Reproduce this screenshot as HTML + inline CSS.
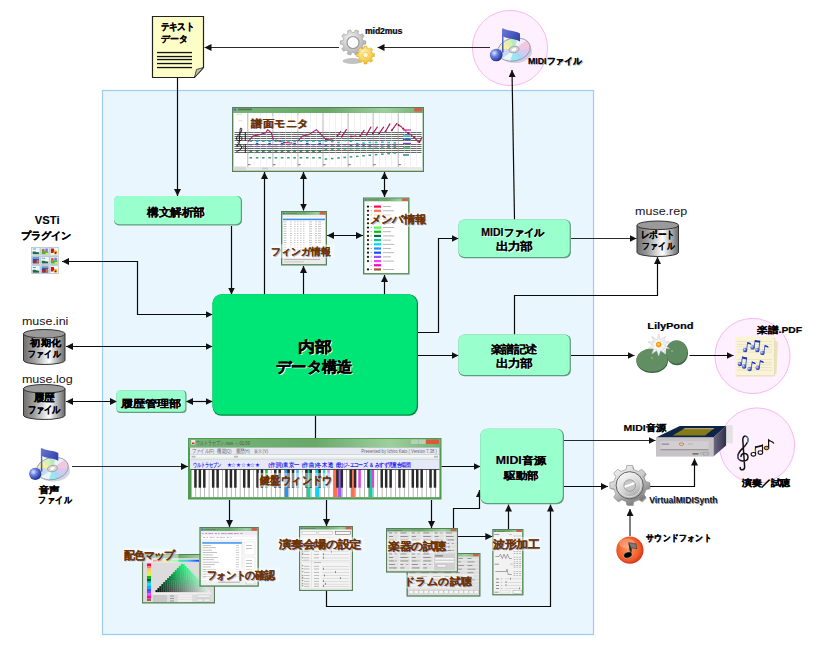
<!DOCTYPE html>
<html><head><meta charset="utf-8"><style>
html,body{margin:0;padding:0;background:#fff}
body{width:816px;height:648px;overflow:hidden;position:relative;font-family:"Liberation Sans",sans-serif}
svg{position:absolute;left:0;top:0;font-family:"Liberation Sans",sans-serif}
</style></head><body>
<svg width="816" height="648" viewBox="0 0 816 648">
<defs>
<marker id="ah" viewBox="0 0 10 10" refX="10" refY="5" markerWidth="7" markerHeight="7" markerUnits="userSpaceOnUse" orient="auto"><path d="M0,0 L10,5 L0,10 z" fill="#111"/></marker>
<marker id="ahs" viewBox="0 0 10 10" refX="0" refY="5" markerWidth="7" markerHeight="7" markerUnits="userSpaceOnUse" orient="auto"><path d="M10,0 L0,5 L10,10 z" fill="#111"/></marker>
<linearGradient id="tbar" x1="0" y1="0" x2="1" y2="0"><stop offset="0" stop-color="#78b478"/><stop offset="0.5" stop-color="#6aa86a"/><stop offset="0.8" stop-color="#9fcf9f"/><stop offset="1" stop-color="#74ae74"/></linearGradient>
<linearGradient id="cylg" x1="0" y1="0" x2="1" y2="0"><stop offset="0" stop-color="#6e6e6e"/><stop offset="0.25" stop-color="#9c9c9c"/><stop offset="0.62" stop-color="#ffffff"/><stop offset="1" stop-color="#6a6a6a"/></linearGradient>
<linearGradient id="cdg" x1="0" y1="0" x2="1" y2="1"><stop offset="0" stop-color="#f2f08a"/><stop offset="0.3" stop-color="#c8e6c0"/><stop offset="0.5" stop-color="#e8e8f8"/><stop offset="0.7" stop-color="#b8c8f0"/><stop offset="1" stop-color="#a0e0f0"/></linearGradient>
<linearGradient id="noteg" x1="0" y1="0" x2="1" y2="1"><stop offset="0" stop-color="#6a7ad8"/><stop offset="1" stop-color="#1a2a9a"/></linearGradient>
<radialGradient id="ballg" cx="0.35" cy="0.35" r="0.7"><stop offset="0" stop-color="#e0e8ff"/><stop offset="0.4" stop-color="#6a80e0"/><stop offset="1" stop-color="#1a2a8a"/></radialGradient>
<radialGradient id="graygear" cx="0.4" cy="0.35" r="0.7"><stop offset="0" stop-color="#f4f4f4"/><stop offset="1" stop-color="#a8a8a8"/></radialGradient>
<radialGradient id="yelgear" cx="0.4" cy="0.35" r="0.7"><stop offset="0" stop-color="#fff6b0"/><stop offset="1" stop-color="#f0b820"/></radialGradient>
<radialGradient id="silvg" cx="0.5" cy="0.4" r="0.6"><stop offset="0" stop-color="#ffffff"/><stop offset="0.6" stop-color="#c8c8c8"/><stop offset="1" stop-color="#707070"/></radialGradient>
<radialGradient id="redg" cx="0.45" cy="0.45" r="0.6"><stop offset="0" stop-color="#ff9a60"/><stop offset="0.7" stop-color="#f05a28"/><stop offset="1" stop-color="#c82818"/></radialGradient>
<linearGradient id="padg" x1="0" y1="0" x2="0" y2="1"><stop offset="0" stop-color="#7a9a78"/><stop offset="1" stop-color="#4e6e4c"/></linearGradient>
</defs>

<rect x="102.5" y="90.5" width="491" height="544" fill="#eaf6fe" stroke="#9ccbf6" stroke-width="1.2"/>
<circle cx="510" cy="48" r="37.6" fill="#fff0ff" stroke="#f6b8f4" stroke-width="1"/>
<circle cx="752.5" cy="356" r="37.6" fill="#fff0ff" stroke="#f6b8f4" stroke-width="1"/>
<circle cx="757" cy="445.5" r="37.6" fill="#fff0ff" stroke="#f6b8f4" stroke-width="1"/>
<path d="M490,47.5 L377.5,47.5" fill="none" stroke="#2a2a2a" stroke-width="1.2" marker-end="url(#ah)"/>
<path d="M339,47.5 L204.5,47.5" fill="none" stroke="#2a2a2a" stroke-width="1.2" marker-end="url(#ah)"/>
<path d="M177.5,78 L177.5,196" fill="none" stroke="#0a0a0a" stroke-width="1.2" marker-end="url(#ah)"/>
<path d="M231.5,226 L231.5,294.5" fill="none" stroke="#0a0a0a" stroke-width="1.2" marker-end="url(#ah)"/>
<path d="M264.5,294.5 L264.5,172" fill="none" stroke="#0a0a0a" stroke-width="1.2" marker-end="url(#ah)"/>
<path d="M303.5,172 L303.5,210.5" fill="none" stroke="#0a0a0a" stroke-width="1.2" marker-end="url(#ah)" marker-start="url(#ahs)"/>
<path d="M384.5,172 L384.5,197" fill="none" stroke="#0a0a0a" stroke-width="1.2" marker-end="url(#ah)" marker-start="url(#ahs)"/>
<path d="M303.5,294.5 L303.5,266" fill="none" stroke="#0a0a0a" stroke-width="1.2" marker-end="url(#ah)"/>
<path d="M384.5,294.5 L384.5,275" fill="none" stroke="#0a0a0a" stroke-width="1.2" marker-end="url(#ah)"/>
<path d="M327,235.5 L363,235.5" fill="none" stroke="#0a0a0a" stroke-width="1.2" marker-end="url(#ah)" marker-start="url(#ahs)"/>
<path d="M418,332.5 L438.5,332.5 L438.5,238.5 L458.5,238.5" fill="none" stroke="#0a0a0a" stroke-width="1.2" marker-end="url(#ah)"/>
<path d="M514.5,219.5 L512,70" fill="none" stroke="#0a0a0a" stroke-width="1.2" marker-end="url(#ah)"/>
<path d="M571,238.5 L636.5,238.5" fill="none" stroke="#2a2a2a" stroke-width="1.2" marker-end="url(#ah)"/>
<path d="M418,355.5 L458.5,355.5" fill="none" stroke="#0a0a0a" stroke-width="1.2" marker-end="url(#ah)"/>
<path d="M514.5,334.5 L514.5,295.5 L657.5,295.5 L657.5,257" fill="none" stroke="#0a0a0a" stroke-width="1.2" marker-end="url(#ah)"/>
<path d="M571,355.5 L634.5,355.5" fill="none" stroke="#0a0a0a" stroke-width="1.2" marker-end="url(#ah)"/>
<path d="M689.5,355.5 L733.5,355.5" fill="none" stroke="#0a0a0a" stroke-width="1.2" marker-end="url(#ah)"/>
<path d="M62,261.5 L137.5,261.5 L137.5,314.5 L212.5,314.5" fill="none" stroke="#0a0a0a" stroke-width="1.2" marker-end="url(#ah)" marker-start="url(#ahs)"/>
<path d="M66,346.5 L212.5,346.5" fill="none" stroke="#0a0a0a" stroke-width="1.2" marker-end="url(#ah)" marker-start="url(#ahs)"/>
<path d="M66,401.5 L117,401.5" fill="none" stroke="#0a0a0a" stroke-width="1.2" marker-end="url(#ah)" marker-start="url(#ahs)"/>
<path d="M186,401.5 L212.5,401.5" fill="none" stroke="#0a0a0a" stroke-width="1.2" marker-end="url(#ah)" marker-start="url(#ahs)"/>
<path d="M315.5,416 L315.5,438" fill="none" stroke="#0a0a0a" stroke-width="1.2"/>
<path d="M72,466.5 L188,466.5" fill="none" stroke="#2a2a2a" stroke-width="1.2" marker-end="url(#ah)"/>
<path d="M441.5,466.5 L480.5,466.5" fill="none" stroke="#0a0a0a" stroke-width="1.2" marker-end="url(#ah)"/>
<path d="M229.5,500 L229.5,527" fill="none" stroke="#0a0a0a" stroke-width="1.2" marker-end="url(#ah)"/>
<path d="M326.5,500 L326.5,526" fill="none" stroke="#0a0a0a" stroke-width="1.2" marker-end="url(#ah)"/>
<path d="M431.5,500 L431.5,528" fill="none" stroke="#0a0a0a" stroke-width="1.2" marker-end="url(#ah)"/>
<path d="M453.5,528 L453.5,508.5 L479.5,508.5 L479.5,490" fill="none" stroke="#0a0a0a" stroke-width="1.2" marker-end="url(#ah)"/>
<path d="M458,536.5 L492.3,536.5" fill="none" stroke="#0a0a0a" stroke-width="1.2" marker-end="url(#ah)"/>
<path d="M508.5,529 L508.5,504.5" fill="none" stroke="#0a0a0a" stroke-width="1.2" marker-end="url(#ah)"/>
<path d="M326.5,591 L326.5,606.5 L550.5,606.5 L550.5,504.5" fill="none" stroke="#0a0a0a" stroke-width="1.2" marker-end="url(#ah)"/>
<path d="M564,440.5 L655.5,440.5" fill="none" stroke="#2a2a2a" stroke-width="1.2" marker-end="url(#ah)"/>
<path d="M564,486.5 L608,486.5" fill="none" stroke="#0a0a0a" stroke-width="1.2" marker-end="url(#ah)"/>
<path d="M650,486.5 L694.5,486.5 L694.5,458.5" fill="none" stroke="#0a0a0a" stroke-width="1.2" marker-end="url(#ah)"/>
<path d="M630,536 L630,509" fill="none" stroke="#2a2a2a" stroke-width="1.2" marker-end="url(#ah)"/>
<rect x="114" y="196" width="128" height="29.5" rx="5" fill="#5e9e80"/>
<rect x="114" y="196" width="126.8" height="28.3" rx="5" fill="#99ffcc"/>
<text transform="translate(148.14999999999998,216.23) scale(1.068,1)" font-size="11.11" font-weight="bold" fill="#ffffff">構文解析部</text>
<text transform="translate(147.45,215.53) scale(1.068,1)" font-size="11.11" font-weight="bold" fill="#000" stroke="#000" stroke-width="0.15">構文解析部</text>
<rect x="116.5" y="390.5" width="70" height="22.5" rx="4" fill="#5e9e80"/>
<rect x="116.5" y="390.5" width="68.8" height="21.3" rx="4" fill="#99ffcc"/>
<text transform="translate(122.10000000000001,407.31) scale(1.216,1)" font-size="9.93" font-weight="bold" fill="#ffffff">履歴管理部</text>
<text transform="translate(121.4,406.61) scale(1.216,1)" font-size="9.93" font-weight="bold" fill="#000" stroke="#000" stroke-width="0.15">履歴管理部</text>
<rect x="212.5" y="294.3" width="205.5" height="121.5" rx="9" fill="#008a40"/>
<rect x="212.5" y="294.3" width="204.3" height="120.3" rx="9" fill="#00e676"/>
<text transform="translate(299.28000000000003,352.57) scale(1.13,1)" font-size="14.85" font-weight="bold" fill="#ffffff">内部</text>
<text transform="translate(298.48,351.77) scale(1.13,1)" font-size="14.85" font-weight="bold" fill="#000" stroke="#000" stroke-width="0.35">内部</text>
<text transform="translate(277.09000000000003,372.52000000000004) scale(1.022,1)" font-size="14.9" font-weight="bold" fill="#ffffff">データ構造</text>
<text transform="translate(276.29,371.72) scale(1.022,1)" font-size="14.9" font-weight="bold" fill="#000" stroke="#000" stroke-width="0.35">データ構造</text>
<rect x="458.5" y="219.5" width="112.4" height="38.7" rx="6" fill="#5e9e80"/>
<rect x="458.5" y="219.5" width="111.2" height="37.5" rx="6" fill="#99ffcc"/>
<text transform="translate(482.06,236.85) scale(1.018,1)" font-size="10.33" font-weight="bold" fill="#ffffff">MIDIファイル</text>
<text transform="translate(481.36,236.15) scale(1.018,1)" font-size="10.33" font-weight="bold" fill="#000" stroke="#000" stroke-width="0.2">MIDIファイル</text>
<text transform="translate(496.89,251.01) scale(1.154,1)" font-size="10.62" font-weight="bold" fill="#ffffff">出力部</text>
<text transform="translate(496.19,250.31) scale(1.154,1)" font-size="10.62" font-weight="bold" fill="#000" stroke="#000" stroke-width="0.1">出力部</text>
<rect x="458.5" y="334.5" width="112.4" height="41.8" rx="6" fill="#5e9e80"/>
<rect x="458.5" y="334.5" width="111.2" height="40.599999999999994" rx="6" fill="#99ffcc"/>
<text transform="translate(491.21,353.42) scale(1.109,1)" font-size="10.52" font-weight="bold" fill="#ffffff">楽譜記述</text>
<text transform="translate(490.51,352.72) scale(1.109,1)" font-size="10.52" font-weight="bold" fill="#000" stroke="#000" stroke-width="0.1">楽譜記述</text>
<text transform="translate(496.78999999999996,368.02) scale(1.153,1)" font-size="10.52" font-weight="bold" fill="#ffffff">出力部</text>
<text transform="translate(496.09,367.32) scale(1.153,1)" font-size="10.52" font-weight="bold" fill="#000" stroke="#000" stroke-width="0.1">出力部</text>
<rect x="480.3" y="428.8" width="83.7" height="75.5" rx="7" fill="#5e9e80"/>
<rect x="480.3" y="428.8" width="82.5" height="74.3" rx="7" fill="#99ffcc"/>
<text transform="translate(496.38,464.34999999999997) scale(1.219,1)" font-size="10.15" font-weight="bold" fill="#ffffff">MIDI音源</text>
<text transform="translate(495.68,463.65) scale(1.219,1)" font-size="10.15" font-weight="bold" fill="#000" stroke="#000" stroke-width="0.2">MIDI音源</text>
<text transform="translate(504.45,479.45) scale(1.154,1)" font-size="10.33" font-weight="bold" fill="#ffffff">駆動部</text>
<text transform="translate(503.75,478.75) scale(1.154,1)" font-size="10.33" font-weight="bold" fill="#000" stroke="#000" stroke-width="0.1">駆動部</text>
<path d="M152.5,16.5 L203.5,16.5 L203.5,67.5 L194.5,77.5 L152.5,77.5 Z" fill="#fdfdc8" stroke="#222" stroke-width="1.2"/>
<path d="M203.5,67.5 L194.5,77.5 L196.5,69.5 Z" fill="#c8c8a0" stroke="#222" stroke-width="0.8"/>
<rect x="157" y="51.9" width="35" height="1.3" fill="#111"/>
<rect x="157" y="55.9" width="35" height="1.3" fill="#111"/>
<rect x="157" y="58.9" width="35" height="1.3" fill="#111"/>
<rect x="157" y="62.9" width="35" height="1.3" fill="#111"/>
<rect x="157" y="66.9" width="35" height="1.3" fill="#111"/>
<text transform="translate(160.68,30.42) scale(0.861,1)" font-size="9.85" font-weight="bold" fill="#000" stroke="#000" stroke-width="0.2">テキスト</text>
<text transform="translate(160.81,42.22) scale(0.984,1)" font-size="8.89" font-weight="bold" fill="#000" stroke="#000" stroke-width="0.2">データ</text>
<ellipse cx="352.5" cy="61" rx="10" ry="3" fill="#999" opacity="0.6"/>
<path d="M363.01,40.56 L365.70,40.89 L365.70,44.11 L363.01,44.44 L362.24,46.81 L364.22,48.66 L362.33,51.27 L359.96,49.96 L357.94,51.42 L358.46,54.08 L355.39,55.07 L354.25,52.62 L351.75,52.62 L350.61,55.07 L347.54,54.08 L348.06,51.42 L346.04,49.96 L343.67,51.27 L341.78,48.66 L343.76,46.81 L342.99,44.44 L340.30,44.11 L340.30,40.89 L342.99,40.56 L343.76,38.19 L341.78,36.34 L343.67,33.73 L346.04,35.04 L348.06,33.58 L347.54,30.92 L350.61,29.93 L351.75,32.38 L354.25,32.38 L355.39,29.93 L358.46,30.92 L357.94,33.58 L359.96,35.04 L362.33,33.73 L364.22,36.34 L362.24,38.19Z" fill="url(#graygear)" stroke="#9a9a9a" stroke-width="0.6"/>
<circle cx="353" cy="42.5" r="6" fill="#fff" stroke="#9a9a9a" stroke-width="1.2"/>
<path d="M372.30,53.34 L374.39,53.59 L374.39,56.41 L372.30,56.66 L371.48,58.63 L372.79,60.28 L370.78,62.29 L369.13,60.98 L367.16,61.80 L366.91,63.89 L364.09,63.89 L363.84,61.80 L361.87,60.98 L360.22,62.29 L358.21,60.28 L359.52,58.63 L358.70,56.66 L356.61,56.41 L356.61,53.59 L358.70,53.34 L359.52,51.37 L358.21,49.72 L360.22,47.71 L361.87,49.02 L363.84,48.20 L364.09,46.11 L366.91,46.11 L367.16,48.20 L369.13,49.02 L370.78,47.71 L372.79,49.72 L371.48,51.37Z" fill="url(#yelgear)" stroke="#e0a820" stroke-width="0.6"/>
<circle cx="365.5" cy="55" r="2.8" fill="#fff8d0" stroke="#e8b030" stroke-width="0.6"/>
<text transform="translate(365.72999999999996,34.45) scale(0.974,1)" font-size="8.72" font-weight="bold" fill="#a0a8c0">mid2mus</text>
<text transform="translate(365.03,33.75) scale(0.974,1)" font-size="8.72" font-weight="bold" fill="#000">mid2mus</text>
<g transform="translate(514,49.5) scale(1.0)"><defs><clipPath id="cdclip1"><ellipse cx="0" cy="0" rx="16.5" ry="11.5" transform="rotate(-12)"/></clipPath></defs><ellipse cx="1" cy="2" rx="17" ry="11.5" fill="#9aa6b8" opacity="0.45"/><g clip-path="url(#cdclip1)"><path d="M0,0 L-20.00,0.00 L-16.18,-11.76 Z" fill="#f4f0a0"/><path d="M0,0 L-16.18,-11.76 L-6.18,-19.02 Z" fill="#d8f0b0"/><path d="M0,0 L-6.18,-19.02 L6.18,-19.02 Z" fill="#b8e8c8"/><path d="M0,0 L6.18,-19.02 L16.18,-11.76 Z" fill="#f0f0f8"/><path d="M0,0 L16.18,-11.76 L20.00,-0.00 Z" fill="#f0c8e0"/><path d="M0,0 L20.00,-0.00 L16.18,11.76 Z" fill="#d8c8f0"/><path d="M0,0 L16.18,11.76 L6.18,19.02 Z" fill="#a8d8f8"/><path d="M0,0 L6.18,19.02 L-6.18,19.02 Z" fill="#98e8f0"/><path d="M0,0 L-6.18,19.02 L-16.18,11.76 Z" fill="#e8f8f8"/><path d="M0,0 L-16.18,11.76 L-20.00,0.00 Z" fill="#c8d8f0"/></g><ellipse cx="0" cy="0" rx="16.5" ry="11.5" transform="rotate(-12)" fill="none" stroke="#8890a8" stroke-width="0.8"/><ellipse cx="0" cy="0" rx="5" ry="3.2" transform="rotate(-12)" fill="#d8d8d8" stroke="#999" stroke-width="0.8"/><ellipse cx="0" cy="0" rx="2.2" ry="1.4" transform="rotate(-12)" fill="#fff"/><path d="M-12,-21 L-10.5,-21 C-6,-18 2,-19 6,-16 L6,-8 C2,-11 -6,-10 -10.5,-13 L-10.5,3 L-12,3 Z" fill="url(#noteg)"/><circle cx="-17.8" cy="5.5" r="6.3" fill="url(#ballg)"/></g>
<text transform="translate(528.61,64.95) scale(0.981,1)" font-size="9.0" font-weight="bold" fill="#a0a8c0">MIDIファイル</text>
<text transform="translate(527.91,64.25) scale(0.981,1)" font-size="9.0" font-weight="bold" fill="#000" stroke="#000" stroke-width="0.15">MIDIファイル</text>
<rect x="232.5" y="107.5" width="191" height="64" fill="#74ad74" stroke="#5a7e5a" stroke-width="1"/>
<rect x="233" y="108" width="190" height="5" fill="url(#tbar)"/>
<rect x="233.5" y="113" width="189" height="57.5" fill="#fff"/>
<rect x="414.2" y="108.1" width="8" height="3.5" fill="#d0604a" rx="0.6"/>
<rect x="234.5" y="132" width="187.0" height="0.85" fill="#505050"/>
<rect x="234.5" y="134" width="187.0" height="0.85" fill="#505050"/>
<rect x="234.5" y="136" width="187.0" height="0.85" fill="#505050"/>
<rect x="234.5" y="138" width="187.0" height="0.85" fill="#505050"/>
<rect x="234.5" y="140" width="187.0" height="0.85" fill="#505050"/>
<rect x="234.5" y="144" width="187.0" height="0.85" fill="#505050"/>
<rect x="234.5" y="146" width="187.0" height="0.85" fill="#505050"/>
<rect x="234.5" y="148" width="187.0" height="0.85" fill="#505050"/>
<rect x="234.5" y="150" width="187.0" height="0.85" fill="#505050"/>
<rect x="234.5" y="152" width="187.0" height="0.85" fill="#505050"/>
<rect x="253.76" y="113" width="0.5" height="53" fill="#e2e2e2"/>
<rect x="260.02" y="113" width="0.5" height="53" fill="#e2e2e2"/>
<rect x="266.28" y="113" width="0.5" height="53" fill="#e2e2e2"/>
<rect x="247.5" y="113" width="0.7" height="54" fill="#9a9a9a"/>
<rect x="248.0" y="164" width="2.5" height="1.2" fill="#888"/>
<rect x="278.81" y="113" width="0.5" height="53" fill="#e2e2e2"/>
<rect x="285.07" y="113" width="0.5" height="53" fill="#e2e2e2"/>
<rect x="291.33000000000004" y="113" width="0.5" height="53" fill="#e2e2e2"/>
<rect x="272.55" y="113" width="0.7" height="54" fill="#9a9a9a"/>
<rect x="273.05" y="164" width="2.5" height="1.2" fill="#888"/>
<rect x="303.86" y="113" width="0.5" height="53" fill="#e2e2e2"/>
<rect x="310.12" y="113" width="0.5" height="53" fill="#e2e2e2"/>
<rect x="316.38" y="113" width="0.5" height="53" fill="#e2e2e2"/>
<rect x="297.6" y="113" width="0.7" height="54" fill="#9a9a9a"/>
<rect x="298.1" y="164" width="2.5" height="1.2" fill="#888"/>
<rect x="328.90999999999997" y="113" width="0.5" height="53" fill="#e2e2e2"/>
<rect x="335.16999999999996" y="113" width="0.5" height="53" fill="#e2e2e2"/>
<rect x="341.42999999999995" y="113" width="0.5" height="53" fill="#e2e2e2"/>
<rect x="322.65" y="113" width="0.7" height="54" fill="#9a9a9a"/>
<rect x="323.15" y="164" width="2.5" height="1.2" fill="#888"/>
<rect x="353.96" y="113" width="0.5" height="53" fill="#e2e2e2"/>
<rect x="360.21999999999997" y="113" width="0.5" height="53" fill="#e2e2e2"/>
<rect x="366.48" y="113" width="0.5" height="53" fill="#e2e2e2"/>
<rect x="347.7" y="113" width="0.7" height="54" fill="#9a9a9a"/>
<rect x="348.2" y="164" width="2.5" height="1.2" fill="#888"/>
<rect x="379.01" y="113" width="0.5" height="53" fill="#e2e2e2"/>
<rect x="385.27" y="113" width="0.5" height="53" fill="#e2e2e2"/>
<rect x="391.53" y="113" width="0.5" height="53" fill="#e2e2e2"/>
<rect x="372.75" y="113" width="0.7" height="54" fill="#9a9a9a"/>
<rect x="373.25" y="164" width="2.5" height="1.2" fill="#888"/>
<rect x="404.06" y="113" width="0.5" height="53" fill="#e2e2e2"/>
<rect x="410.32" y="113" width="0.5" height="53" fill="#e2e2e2"/>
<rect x="416.58000000000004" y="113" width="0.5" height="53" fill="#e2e2e2"/>
<rect x="397.8" y="113" width="0.7" height="54" fill="#9a9a9a"/>
<rect x="398.3" y="164" width="2.5" height="1.2" fill="#888"/>
<path d="M239.5,143.5 C238,144 237,142.5 238.5,142 M239.2,143 L240.2,129 C240.5,127 242.5,128 241.5,131 C240.5,134 236,136 236.5,139 C237,141.5 242,141.5 242,138.5 C242,136 239,136 239,138" fill="none" stroke="#111" stroke-width="0.9"/>
<path d="M236.5,145.5 C239,144 242.5,145 241.5,148 C240.8,150 238,151 236.5,151.5" fill="none" stroke="#111" stroke-width="1"/><circle cx="237.3" cy="146" r="0.8" fill="#111"/><circle cx="243.3" cy="145.5" r="0.4" fill="#111"/><circle cx="243.3" cy="147.5" r="0.4" fill="#111"/>
<rect x="244.8" y="132" width="1" height="9" fill="#222"/><rect x="244.8" y="144" width="1" height="9" fill="#222"/>
<rect x="236" y="113.8" width="6" height="0.7" fill="#ccc"/><rect x="238.5" y="120.5" width="4" height="0.7" fill="#ccc"/>
<rect x="233.5" y="167" width="189" height="3" fill="#e8e8e8"/>
<rect x="262" y="167.5" width="6" height="2" fill="#cfcfcf"/>
<rect x="234" y="166.5" width="12" height="3.5" fill="#d8d8d8"/>
<path d="M248,141.7 L253.1,136 L259.4,134.7 L265.8,132.8 L267.7,129.4 L271.5,133.4 L273.4,139.8" fill="none" stroke="#a82060" stroke-width="1.1"/>
<path d="M297.5,141.5 L302.5,136 L308.8,134.7 L316.4,129.6 L322.7,136 L325.3,139" fill="none" stroke="#a82060" stroke-width="1.1"/>
<path d="M276,140.5 L281,141.5" stroke="#a82060" stroke-width="1.2" stroke-linecap="round"/>
<circle cx="276" cy="140.5" r="0.9" fill="#8a1850"/>
<path d="M284,142.5 L292,143" stroke="#a82060" stroke-width="1.2" stroke-linecap="round"/>
<circle cx="284" cy="142.5" r="0.9" fill="#8a1850"/>
<path d="M326,139.5 L333,140" stroke="#a82060" stroke-width="1.2" stroke-linecap="round"/>
<circle cx="326" cy="139.5" r="0.9" fill="#8a1850"/>
<path d="M337.4,136 L340.6,131.5" stroke="#a82060" stroke-width="1.2" stroke-linecap="round"/>
<circle cx="337.4" cy="136" r="0.9" fill="#8a1850"/>
<path d="M341.8,136.6 L346.3,129.6" stroke="#a82060" stroke-width="1.2" stroke-linecap="round"/>
<circle cx="341.8" cy="136.6" r="0.9" fill="#8a1850"/>
<path d="M351,136.5 L356,136" stroke="#a82060" stroke-width="1.2" stroke-linecap="round"/>
<circle cx="351" cy="136.5" r="0.9" fill="#8a1850"/>
<path d="M360.2,136 L364,130.3" stroke="#a82060" stroke-width="1.2" stroke-linecap="round"/>
<circle cx="360.2" cy="136" r="0.9" fill="#8a1850"/>
<path d="M366.5,134.7 L370.9,127.1" stroke="#a82060" stroke-width="1.2" stroke-linecap="round"/>
<circle cx="366.5" cy="134.7" r="0.9" fill="#8a1850"/>
<path d="M372.8,133.4 L377.3,127.1" stroke="#a82060" stroke-width="1.2" stroke-linecap="round"/>
<circle cx="372.8" cy="133.4" r="0.9" fill="#8a1850"/>
<path d="M379.2,133.4 L383.6,127.1" stroke="#a82060" stroke-width="1.2" stroke-linecap="round"/>
<circle cx="379.2" cy="133.4" r="0.9" fill="#8a1850"/>
<path d="M385.5,131.5 L389.9,123.9" stroke="#a82060" stroke-width="1.2" stroke-linecap="round"/>
<circle cx="385.5" cy="131.5" r="0.9" fill="#8a1850"/>
<path d="M391.8,130.3 L396.9,123.3" stroke="#a82060" stroke-width="1.2" stroke-linecap="round"/>
<circle cx="391.8" cy="130.3" r="0.9" fill="#8a1850"/>
<path d="M398.5,125 L401.9,127.2" stroke="#a82060" stroke-width="1.2" stroke-linecap="round"/>
<circle cx="398.5" cy="125" r="0.9" fill="#8a1850"/>
<path d="M403,128.5 L406,131" stroke="#a82060" stroke-width="1.2" stroke-linecap="round"/>
<circle cx="403" cy="128.5" r="0.9" fill="#8a1850"/>
<path d="M408,133 L412,135.5" stroke="#a82060" stroke-width="1.2" stroke-linecap="round"/>
<circle cx="408" cy="133" r="0.9" fill="#8a1850"/>
<path d="M414,137 L418.5,142" stroke="#a82060" stroke-width="1.2" stroke-linecap="round"/>
<circle cx="414" cy="137" r="0.9" fill="#8a1850"/>
<path d="M419.5,142 L422,137.5" stroke="#a82060" stroke-width="1.2" stroke-linecap="round"/>
<circle cx="419.5" cy="142" r="0.9" fill="#8a1850"/>
<rect x="249.5" y="140.5" width="2.6" height="1.5" fill="#22b8d8"/>
<rect x="249.5" y="145.6" width="2.6" height="1.5" fill="#9060d0"/>
<rect x="249.5" y="150.3" width="2.6" height="1.5" fill="#108040"/>
<rect x="249.5" y="157.0" width="2.6" height="1.5" fill="#3a9a80"/>
<rect x="255.8" y="140.5" width="2.6" height="1.5" fill="#22b8d8"/>
<rect x="255.8" y="145.6" width="2.6" height="1.5" fill="#9060d0"/>
<rect x="255.8" y="150.3" width="2.6" height="1.5" fill="#108040"/>
<rect x="255.8" y="157.0" width="2.6" height="1.5" fill="#3a9a80"/>
<rect x="255.8" y="142.8" width="2.6" height="1.5" fill="#2060c0"/>
<rect x="262.0" y="140.5" width="2.6" height="1.5" fill="#22b8d8"/>
<rect x="262.0" y="145.6" width="2.6" height="1.5" fill="#9060d0"/>
<rect x="262.0" y="150.3" width="2.6" height="1.5" fill="#108040"/>
<rect x="262.0" y="157.0" width="2.6" height="1.5" fill="#3a9a80"/>
<rect x="268.3" y="140.5" width="2.6" height="1.5" fill="#22b8d8"/>
<rect x="268.3" y="145.6" width="2.6" height="1.5" fill="#9060d0"/>
<rect x="268.3" y="150.3" width="2.6" height="1.5" fill="#108040"/>
<rect x="268.3" y="157.0" width="2.6" height="1.5" fill="#3a9a80"/>
<rect x="268.3" y="142.8" width="2.6" height="1.5" fill="#2060c0"/>
<rect x="274.6" y="140.5" width="2.6" height="1.5" fill="#22b8d8"/>
<rect x="274.6" y="145.6" width="2.6" height="1.5" fill="#9060d0"/>
<rect x="274.6" y="150.3" width="2.6" height="1.5" fill="#108040"/>
<rect x="274.6" y="157.0" width="2.6" height="1.5" fill="#3a9a80"/>
<rect x="280.8" y="140.5" width="2.6" height="1.5" fill="#22b8d8"/>
<rect x="280.8" y="145.6" width="2.6" height="1.5" fill="#9060d0"/>
<rect x="280.8" y="150.3" width="2.6" height="1.5" fill="#108040"/>
<rect x="280.8" y="157.0" width="2.6" height="1.5" fill="#3a9a80"/>
<rect x="280.8" y="142.8" width="2.6" height="1.5" fill="#2060c0"/>
<rect x="287.1" y="140.5" width="2.6" height="1.5" fill="#22b8d8"/>
<rect x="287.1" y="145.6" width="2.6" height="1.5" fill="#9060d0"/>
<rect x="287.1" y="150.3" width="2.6" height="1.5" fill="#108040"/>
<rect x="287.1" y="157.0" width="2.6" height="1.5" fill="#3a9a80"/>
<rect x="293.3" y="140.5" width="2.6" height="1.5" fill="#22b8d8"/>
<rect x="293.3" y="145.6" width="2.6" height="1.5" fill="#9060d0"/>
<rect x="293.3" y="150.3" width="2.6" height="1.5" fill="#108040"/>
<rect x="293.3" y="157.0" width="2.6" height="1.5" fill="#3a9a80"/>
<rect x="293.3" y="142.8" width="2.6" height="1.5" fill="#2060c0"/>
<rect x="299.6" y="140.5" width="2.6" height="1.5" fill="#22b8d8"/>
<rect x="299.6" y="145.6" width="2.6" height="1.5" fill="#9060d0"/>
<rect x="299.6" y="150.3" width="2.6" height="1.5" fill="#108040"/>
<rect x="299.6" y="157.0" width="2.6" height="1.5" fill="#3a9a80"/>
<rect x="305.9" y="140.5" width="2.6" height="1.5" fill="#22b8d8"/>
<rect x="305.9" y="145.6" width="2.6" height="1.5" fill="#9060d0"/>
<rect x="305.9" y="150.3" width="2.6" height="1.5" fill="#108040"/>
<rect x="305.9" y="157.0" width="2.6" height="1.5" fill="#3a9a80"/>
<rect x="305.9" y="142.8" width="2.6" height="1.5" fill="#2060c0"/>
<rect x="312.1" y="140.5" width="2.6" height="1.5" fill="#22b8d8"/>
<rect x="312.1" y="145.6" width="2.6" height="1.5" fill="#9060d0"/>
<rect x="312.1" y="150.3" width="2.6" height="1.5" fill="#108040"/>
<rect x="312.1" y="157.0" width="2.6" height="1.5" fill="#3a9a80"/>
<rect x="318.4" y="140.5" width="2.6" height="1.5" fill="#22b8d8"/>
<rect x="318.4" y="145.6" width="2.6" height="1.5" fill="#9060d0"/>
<rect x="318.4" y="150.3" width="2.6" height="1.5" fill="#108040"/>
<rect x="318.4" y="157.0" width="2.6" height="1.5" fill="#3a9a80"/>
<rect x="318.4" y="142.8" width="2.6" height="1.5" fill="#2060c0"/>
<rect x="324.6" y="140.5" width="2.6" height="1.5" fill="#22b8d8"/>
<rect x="324.6" y="145.1" width="2.6" height="1.5" fill="#9060d0"/>
<rect x="324.6" y="148.3" width="2.6" height="1.5" fill="#20a050"/>
<rect x="324.6" y="158.3" width="2.6" height="1.5" fill="#3a9a80"/>
<rect x="330.9" y="140.9" width="2.6" height="1.5" fill="#22b8d8"/>
<rect x="330.9" y="145.2" width="2.6" height="1.5" fill="#9060d0"/>
<rect x="330.9" y="148.2" width="2.6" height="1.5" fill="#20a050"/>
<rect x="330.9" y="157.8" width="2.6" height="1.5" fill="#3a9a80"/>
<rect x="337.2" y="141.7" width="2.6" height="1.5" fill="#22b8d8"/>
<rect x="337.2" y="144.4" width="2.6" height="1.5" fill="#9060d0"/>
<rect x="337.2" y="148.1" width="2.6" height="1.5" fill="#20a050"/>
<rect x="337.2" y="157.2" width="2.6" height="1.5" fill="#3a9a80"/>
<rect x="343.4" y="139.8" width="2.6" height="1.5" fill="#22b8d8"/>
<rect x="343.4" y="145.6" width="2.6" height="1.5" fill="#9060d0"/>
<rect x="343.4" y="148.0" width="2.6" height="1.5" fill="#20a050"/>
<rect x="343.4" y="156.7" width="2.6" height="1.5" fill="#3a9a80"/>
<rect x="349.7" y="140.6" width="2.6" height="1.5" fill="#22b8d8"/>
<rect x="349.7" y="144.7" width="2.6" height="1.5" fill="#9060d0"/>
<rect x="349.7" y="147.9" width="2.6" height="1.5" fill="#20a050"/>
<rect x="349.7" y="156.1" width="2.6" height="1.5" fill="#3a9a80"/>
<rect x="356.0" y="142.8" width="2.6" height="1.5" fill="#22b8d8"/>
<rect x="356.0" y="145.0" width="2.6" height="1.5" fill="#9060d0"/>
<rect x="356.0" y="147.8" width="2.6" height="1.5" fill="#20a050"/>
<rect x="356.0" y="155.6" width="2.6" height="1.5" fill="#3a9a80"/>
<rect x="362.2" y="142.3" width="2.6" height="1.5" fill="#22b8d8"/>
<rect x="362.2" y="145.0" width="2.6" height="1.5" fill="#9060d0"/>
<rect x="362.2" y="147.7" width="2.6" height="1.5" fill="#20a050"/>
<rect x="362.2" y="155.0" width="2.6" height="1.5" fill="#3a9a80"/>
<rect x="368.5" y="141.7" width="2.6" height="1.5" fill="#22b8d8"/>
<rect x="368.5" y="144.5" width="2.6" height="1.5" fill="#9060d0"/>
<rect x="368.5" y="147.6" width="2.6" height="1.5" fill="#20a050"/>
<rect x="368.5" y="154.5" width="2.6" height="1.5" fill="#3a9a80"/>
<rect x="374.8" y="141.7" width="2.6" height="1.5" fill="#22b8d8"/>
<rect x="374.8" y="145.6" width="2.6" height="1.5" fill="#9060d0"/>
<rect x="374.8" y="147.5" width="2.6" height="1.5" fill="#20a050"/>
<rect x="374.8" y="153.9" width="2.6" height="1.5" fill="#3a9a80"/>
<rect x="381.0" y="141.4" width="2.6" height="1.5" fill="#22b8d8"/>
<rect x="381.0" y="145.4" width="2.6" height="1.5" fill="#9060d0"/>
<rect x="381.0" y="147.4" width="2.6" height="1.5" fill="#20a050"/>
<rect x="381.0" y="153.4" width="2.6" height="1.5" fill="#3a9a80"/>
<rect x="387.3" y="141.8" width="2.6" height="1.5" fill="#22b8d8"/>
<rect x="387.3" y="144.4" width="2.6" height="1.5" fill="#9060d0"/>
<rect x="387.3" y="147.3" width="2.6" height="1.5" fill="#20a050"/>
<rect x="387.3" y="152.8" width="2.6" height="1.5" fill="#3a9a80"/>
<rect x="393.5" y="142.1" width="2.6" height="1.5" fill="#22b8d8"/>
<rect x="393.5" y="145.2" width="2.6" height="1.5" fill="#9060d0"/>
<rect x="393.5" y="147.2" width="2.6" height="1.5" fill="#20a050"/>
<rect x="393.5" y="152.2" width="2.6" height="1.5" fill="#3a9a80"/>
<rect x="403" y="129.3" width="8" height="1.4" fill="#e040b0"/>
<rect x="403" y="135.3" width="7" height="1.4" fill="#20c8e8"/>
<rect x="403" y="138.8" width="8" height="1.4" fill="#2070c0"/>
<rect x="403" y="142.8" width="8" height="1.4" fill="#7a40d0"/>
<rect x="403" y="147.3" width="7" height="1.4" fill="#30c040"/>
<rect x="403" y="154.3" width="6" height="1.4" fill="#308070"/>
<circle cx="234.9" cy="109.6" r="1.4" fill="#5a6ad8"/>
<rect x="238" y="108.6" width="14" height="1.6" fill="#4a5a4a" opacity="0.7"/>
<rect x="249.7" y="115.7" width="58.1" height="14.0" fill="#ffffff" opacity="0.45"/>
<text transform="translate(252.1,127.41000000000001) scale(1.109,1)" font-size="10.16" font-weight="bold" fill="#a8b4d8">譜面モニタ</text>
<text transform="translate(251.2,126.51) scale(1.109,1)" font-size="10.16" font-weight="bold" fill="#6e3200" stroke="#6e3200" stroke-width="0.1">譜面モニタ</text>
<rect x="281.5" y="211.5" width="45" height="53.5" fill="#74ad74" stroke="#5a7e5a" stroke-width="1"/>
<rect x="282" y="212" width="44" height="2.8" fill="url(#tbar)"/>
<rect x="282.5" y="214.8" width="43" height="49.2" fill="#fff"/>
<circle cx="283.8" cy="213.40" r="0.9" fill="#4a6ae0"/>
<rect x="285.5" y="212.90" width="11.5" height="1" fill="#5a6a5a" opacity="0.55"/>
<rect x="319.7" y="212.1" width="5.5" height="2.4" fill="#d0604a" rx="0.6"/>
<rect x="283" y="215" width="42" height="2.5" fill="#f0f0f0"/>
<rect x="283" y="218.6" width="42" height="1.6" fill="#3a8ef0"/>
<rect x="283.5" y="221.5" width="3" height="0.8" fill="#b8b8b8"/>
<rect x="290" y="221.5" width="1.5" height="0.8" fill="#b8b8b8"/>
<rect x="294" y="221.5" width="1.5" height="0.8" fill="#b8b8b8"/>
<rect x="297" y="221.5" width="1.5" height="0.8" fill="#b8b8b8"/>
<rect x="300" y="221.5" width="1.5" height="0.8" fill="#b8b8b8"/>
<rect x="303" y="221.5" width="1.5" height="0.8" fill="#b8b8b8"/>
<rect x="309" y="221.5" width="3" height="0.8" fill="#b8b8b8"/>
<rect x="315" y="221.5" width="2" height="0.8" fill="#b8b8b8"/>
<rect x="318" y="221.5" width="3" height="0.8" fill="#b8b8b8"/>
<rect x="283.5" y="223.8" width="3" height="0.8" fill="#b8b8b8"/>
<rect x="290" y="223.8" width="1.5" height="0.8" fill="#b8b8b8"/>
<rect x="294" y="223.8" width="1.5" height="0.8" fill="#b8b8b8"/>
<rect x="297" y="223.8" width="1.5" height="0.8" fill="#b8b8b8"/>
<rect x="300" y="223.8" width="1.5" height="0.8" fill="#b8b8b8"/>
<rect x="303" y="223.8" width="1.5" height="0.8" fill="#b8b8b8"/>
<rect x="309" y="223.8" width="3" height="0.8" fill="#b8b8b8"/>
<rect x="315" y="223.8" width="2" height="0.8" fill="#b8b8b8"/>
<rect x="318" y="223.8" width="3" height="0.8" fill="#b8b8b8"/>
<rect x="283.5" y="226.1" width="3" height="0.8" fill="#b8b8b8"/>
<rect x="290" y="226.1" width="1.5" height="0.8" fill="#b8b8b8"/>
<rect x="294" y="226.1" width="1.5" height="0.8" fill="#b8b8b8"/>
<rect x="297" y="226.1" width="1.5" height="0.8" fill="#b8b8b8"/>
<rect x="300" y="226.1" width="1.5" height="0.8" fill="#b8b8b8"/>
<rect x="303" y="226.1" width="1.5" height="0.8" fill="#b8b8b8"/>
<rect x="309" y="226.1" width="3" height="0.8" fill="#b8b8b8"/>
<rect x="315" y="226.1" width="2" height="0.8" fill="#b8b8b8"/>
<rect x="318" y="226.1" width="3" height="0.8" fill="#b8b8b8"/>
<rect x="283.5" y="228.4" width="3" height="0.8" fill="#b8b8b8"/>
<rect x="290" y="228.4" width="1.5" height="0.8" fill="#b8b8b8"/>
<rect x="294" y="228.4" width="1.5" height="0.8" fill="#b8b8b8"/>
<rect x="297" y="228.4" width="1.5" height="0.8" fill="#b8b8b8"/>
<rect x="300" y="228.4" width="1.5" height="0.8" fill="#b8b8b8"/>
<rect x="303" y="228.4" width="1.5" height="0.8" fill="#b8b8b8"/>
<rect x="309" y="228.4" width="3" height="0.8" fill="#b8b8b8"/>
<rect x="315" y="228.4" width="2" height="0.8" fill="#b8b8b8"/>
<rect x="318" y="228.4" width="3" height="0.8" fill="#b8b8b8"/>
<rect x="283.5" y="230.7" width="3" height="0.8" fill="#b8b8b8"/>
<rect x="290" y="230.7" width="1.5" height="0.8" fill="#b8b8b8"/>
<rect x="294" y="230.7" width="1.5" height="0.8" fill="#b8b8b8"/>
<rect x="297" y="230.7" width="1.5" height="0.8" fill="#b8b8b8"/>
<rect x="300" y="230.7" width="1.5" height="0.8" fill="#b8b8b8"/>
<rect x="303" y="230.7" width="1.5" height="0.8" fill="#b8b8b8"/>
<rect x="309" y="230.7" width="3" height="0.8" fill="#b8b8b8"/>
<rect x="315" y="230.7" width="2" height="0.8" fill="#b8b8b8"/>
<rect x="318" y="230.7" width="3" height="0.8" fill="#b8b8b8"/>
<rect x="283.5" y="233.0" width="3" height="0.8" fill="#b8b8b8"/>
<rect x="290" y="233.0" width="1.5" height="0.8" fill="#b8b8b8"/>
<rect x="294" y="233.0" width="1.5" height="0.8" fill="#b8b8b8"/>
<rect x="297" y="233.0" width="1.5" height="0.8" fill="#b8b8b8"/>
<rect x="300" y="233.0" width="1.5" height="0.8" fill="#b8b8b8"/>
<rect x="303" y="233.0" width="1.5" height="0.8" fill="#b8b8b8"/>
<rect x="309" y="233.0" width="3" height="0.8" fill="#b8b8b8"/>
<rect x="315" y="233.0" width="2" height="0.8" fill="#b8b8b8"/>
<rect x="318" y="233.0" width="3" height="0.8" fill="#b8b8b8"/>
<rect x="283.5" y="235.3" width="3" height="0.8" fill="#b8b8b8"/>
<rect x="290" y="235.3" width="1.5" height="0.8" fill="#b8b8b8"/>
<rect x="294" y="235.3" width="1.5" height="0.8" fill="#b8b8b8"/>
<rect x="297" y="235.3" width="1.5" height="0.8" fill="#b8b8b8"/>
<rect x="300" y="235.3" width="1.5" height="0.8" fill="#b8b8b8"/>
<rect x="303" y="235.3" width="1.5" height="0.8" fill="#b8b8b8"/>
<rect x="309" y="235.3" width="3" height="0.8" fill="#b8b8b8"/>
<rect x="315" y="235.3" width="2" height="0.8" fill="#b8b8b8"/>
<rect x="318" y="235.3" width="3" height="0.8" fill="#b8b8b8"/>
<rect x="283.5" y="237.6" width="3" height="0.8" fill="#b8b8b8"/>
<rect x="290" y="237.6" width="1.5" height="0.8" fill="#b8b8b8"/>
<rect x="294" y="237.6" width="1.5" height="0.8" fill="#b8b8b8"/>
<rect x="297" y="237.6" width="1.5" height="0.8" fill="#b8b8b8"/>
<rect x="300" y="237.6" width="1.5" height="0.8" fill="#b8b8b8"/>
<rect x="303" y="237.6" width="1.5" height="0.8" fill="#b8b8b8"/>
<rect x="309" y="237.6" width="3" height="0.8" fill="#b8b8b8"/>
<rect x="315" y="237.6" width="2" height="0.8" fill="#b8b8b8"/>
<rect x="318" y="237.6" width="3" height="0.8" fill="#b8b8b8"/>
<rect x="283.5" y="239.9" width="3" height="0.8" fill="#b8b8b8"/>
<rect x="290" y="239.9" width="1.5" height="0.8" fill="#b8b8b8"/>
<rect x="294" y="239.9" width="1.5" height="0.8" fill="#b8b8b8"/>
<rect x="297" y="239.9" width="1.5" height="0.8" fill="#b8b8b8"/>
<rect x="300" y="239.9" width="1.5" height="0.8" fill="#b8b8b8"/>
<rect x="303" y="239.9" width="1.5" height="0.8" fill="#b8b8b8"/>
<rect x="309" y="239.9" width="3" height="0.8" fill="#b8b8b8"/>
<rect x="315" y="239.9" width="2" height="0.8" fill="#b8b8b8"/>
<rect x="318" y="239.9" width="3" height="0.8" fill="#b8b8b8"/>
<rect x="283.5" y="242.2" width="3" height="0.8" fill="#b8b8b8"/>
<rect x="290" y="242.2" width="1.5" height="0.8" fill="#b8b8b8"/>
<rect x="294" y="242.2" width="1.5" height="0.8" fill="#b8b8b8"/>
<rect x="297" y="242.2" width="1.5" height="0.8" fill="#b8b8b8"/>
<rect x="300" y="242.2" width="1.5" height="0.8" fill="#b8b8b8"/>
<rect x="303" y="242.2" width="1.5" height="0.8" fill="#b8b8b8"/>
<rect x="309" y="242.2" width="3" height="0.8" fill="#b8b8b8"/>
<rect x="315" y="242.2" width="2" height="0.8" fill="#b8b8b8"/>
<rect x="318" y="242.2" width="3" height="0.8" fill="#b8b8b8"/>
<rect x="283.5" y="244.5" width="3" height="0.8" fill="#b8b8b8"/>
<rect x="290" y="244.5" width="1.5" height="0.8" fill="#b8b8b8"/>
<rect x="294" y="244.5" width="1.5" height="0.8" fill="#b8b8b8"/>
<rect x="297" y="244.5" width="1.5" height="0.8" fill="#b8b8b8"/>
<rect x="300" y="244.5" width="1.5" height="0.8" fill="#b8b8b8"/>
<rect x="303" y="244.5" width="1.5" height="0.8" fill="#b8b8b8"/>
<rect x="309" y="244.5" width="3" height="0.8" fill="#b8b8b8"/>
<rect x="283.5" y="246.8" width="3" height="0.8" fill="#b8b8b8"/>
<rect x="290" y="246.8" width="1.5" height="0.8" fill="#b8b8b8"/>
<rect x="294" y="246.8" width="1.5" height="0.8" fill="#b8b8b8"/>
<rect x="297" y="246.8" width="1.5" height="0.8" fill="#b8b8b8"/>
<rect x="300" y="246.8" width="1.5" height="0.8" fill="#b8b8b8"/>
<rect x="303" y="246.8" width="1.5" height="0.8" fill="#b8b8b8"/>
<rect x="309" y="246.8" width="3" height="0.8" fill="#b8b8b8"/>
<rect x="283.5" y="249.1" width="3" height="0.8" fill="#b8b8b8"/>
<rect x="290" y="249.1" width="1.5" height="0.8" fill="#b8b8b8"/>
<rect x="294" y="249.1" width="1.5" height="0.8" fill="#b8b8b8"/>
<rect x="297" y="249.1" width="1.5" height="0.8" fill="#b8b8b8"/>
<rect x="300" y="249.1" width="1.5" height="0.8" fill="#b8b8b8"/>
<rect x="303" y="249.1" width="1.5" height="0.8" fill="#b8b8b8"/>
<rect x="309" y="249.1" width="3" height="0.8" fill="#b8b8b8"/>
<rect x="283.5" y="251.4" width="3" height="0.8" fill="#b8b8b8"/>
<rect x="290" y="251.4" width="1.5" height="0.8" fill="#b8b8b8"/>
<rect x="294" y="251.4" width="1.5" height="0.8" fill="#b8b8b8"/>
<rect x="297" y="251.4" width="1.5" height="0.8" fill="#b8b8b8"/>
<rect x="300" y="251.4" width="1.5" height="0.8" fill="#b8b8b8"/>
<rect x="303" y="251.4" width="1.5" height="0.8" fill="#b8b8b8"/>
<rect x="309" y="251.4" width="3" height="0.8" fill="#b8b8b8"/>
<rect x="283.5" y="253.7" width="3" height="0.8" fill="#b8b8b8"/>
<rect x="290" y="253.7" width="1.5" height="0.8" fill="#b8b8b8"/>
<rect x="294" y="253.7" width="1.5" height="0.8" fill="#b8b8b8"/>
<rect x="297" y="253.7" width="1.5" height="0.8" fill="#b8b8b8"/>
<rect x="300" y="253.7" width="1.5" height="0.8" fill="#b8b8b8"/>
<rect x="303" y="253.7" width="1.5" height="0.8" fill="#b8b8b8"/>
<rect x="309" y="253.7" width="3" height="0.8" fill="#b8b8b8"/>
<rect x="283" y="257.5" width="42" height="6.5" fill="#ececec"/>
<rect x="284" y="259" width="36" height="0.8" fill="#aaa"/><rect x="284" y="261.5" width="20" height="0.8" fill="#bbb"/>
<rect x="270.4" y="244.4" width="64.3" height="13.8" fill="#ffffff" opacity="0.45"/>
<text transform="translate(271.94,256.03) scale(0.981,1)" font-size="10.47" font-weight="bold" fill="#a8b4d8">フィンガ情報</text>
<text transform="translate(271.04,255.13) scale(0.981,1)" font-size="10.47" font-weight="bold" fill="#6e3200" stroke="#6e3200" stroke-width="0.1">フィンガ情報</text>
<rect x="363.5" y="198.0" width="45.5" height="76" fill="#74ad74" stroke="#5a7e5a" stroke-width="1"/>
<rect x="364" y="198.5" width="44.5" height="2.8" fill="url(#tbar)"/>
<rect x="364.5" y="201.3" width="43.5" height="71.7" fill="#fff"/>
<circle cx="365.8" cy="199.90" r="0.9" fill="#4a6ae0"/>
<rect x="367.5" y="199.40" width="11.6" height="1" fill="#5a6a5a" opacity="0.55"/>
<rect x="402.2" y="198.6" width="5.5" height="2.4" fill="#d0604a" rx="0.6"/>
<circle cx="368" cy="206.6" r="1.1" fill="#111"/>
<rect x="370.5" y="206.2" width="1.5" height="0.8" fill="#999"/>
<rect x="374" y="205.5" width="7" height="2.2" fill="#ff0a50"/>
<rect x="383" y="206.2" width="8" height="0.8" fill="#a8a8a8"/>
<circle cx="368" cy="210.79" r="1.1" fill="#111"/>
<rect x="370.5" y="210.39" width="1.5" height="0.8" fill="#999"/>
<rect x="374" y="209.69" width="7" height="2.2" fill="#ff7050"/>
<rect x="383" y="210.39" width="11" height="0.8" fill="#a8a8a8"/>
<circle cx="368" cy="214.98" r="1.1" fill="#111"/>
<rect x="370.5" y="214.57999999999998" width="1.5" height="0.8" fill="#999"/>
<rect x="374" y="213.88" width="7" height="2.2" fill="#ffd8a0"/>
<rect x="383" y="214.57999999999998" width="8" height="0.8" fill="#a8a8a8"/>
<circle cx="368" cy="219.17" r="1.1" fill="#111"/>
<rect x="370.5" y="218.76999999999998" width="1.5" height="0.8" fill="#999"/>
<rect x="374" y="218.07" width="7" height="2.2" fill="#f0f0a0"/>
<rect x="383" y="218.76999999999998" width="11" height="0.8" fill="#a8a8a8"/>
<circle cx="368" cy="223.35999999999999" r="1.1" fill="#111"/>
<rect x="370.5" y="222.95999999999998" width="1.5" height="0.8" fill="#999"/>
<rect x="374" y="222.26" width="7" height="2.2" fill="#c0ffc0"/>
<rect x="383" y="222.95999999999998" width="8" height="0.8" fill="#a8a8a8"/>
<circle cx="368" cy="227.55" r="1.1" fill="#111"/>
<rect x="370.5" y="227.15" width="1.5" height="0.8" fill="#999"/>
<rect x="374" y="226.45000000000002" width="7" height="2.2" fill="#40ff40"/>
<rect x="383" y="227.15" width="11" height="0.8" fill="#a8a8a8"/>
<circle cx="368" cy="231.74" r="1.1" fill="#111"/>
<rect x="370.5" y="231.34" width="1.5" height="0.8" fill="#999"/>
<rect x="374" y="230.64000000000001" width="7" height="2.2" fill="#00c000"/>
<rect x="383" y="231.34" width="8" height="0.8" fill="#a8a8a8"/>
<circle cx="368" cy="235.93" r="1.1" fill="#111"/>
<rect x="370.5" y="235.53" width="1.5" height="0.8" fill="#999"/>
<rect x="374" y="234.83" width="7" height="2.2" fill="#007050"/>
<rect x="383" y="235.53" width="11" height="0.8" fill="#a8a8a8"/>
<circle cx="368" cy="240.12" r="1.1" fill="#111"/>
<rect x="370.5" y="239.72" width="1.5" height="0.8" fill="#999"/>
<rect x="374" y="239.02" width="7" height="2.2" fill="#00d090"/>
<rect x="383" y="239.72" width="8" height="0.8" fill="#a8a8a8"/>
<circle cx="368" cy="244.31" r="1.1" fill="#111"/>
<rect x="370.5" y="243.91" width="1.5" height="0.8" fill="#999"/>
<rect x="374" y="243.21" width="7" height="2.2" fill="#00d8f0"/>
<rect x="383" y="243.91" width="11" height="0.8" fill="#a8a8a8"/>
<circle cx="368" cy="248.5" r="1.1" fill="#111"/>
<rect x="370.5" y="248.1" width="1.5" height="0.8" fill="#999"/>
<rect x="374" y="247.4" width="7" height="2.2" fill="#2090ff"/>
<rect x="383" y="248.1" width="8" height="0.8" fill="#a8a8a8"/>
<circle cx="368" cy="252.69" r="1.1" fill="#111"/>
<rect x="370.5" y="252.29" width="1.5" height="0.8" fill="#999"/>
<rect x="374" y="251.59" width="7" height="2.2" fill="#1050ff"/>
<rect x="383" y="252.29" width="11" height="0.8" fill="#a8a8a8"/>
<circle cx="368" cy="256.88" r="1.1" fill="#111"/>
<rect x="370.5" y="256.48" width="1.5" height="0.8" fill="#999"/>
<rect x="374" y="255.78" width="7" height="2.2" fill="#9050ff"/>
<rect x="383" y="256.48" width="8" height="0.8" fill="#a8a8a8"/>
<circle cx="368" cy="261.07" r="1.1" fill="#111"/>
<rect x="370.5" y="260.67" width="1.5" height="0.8" fill="#999"/>
<rect x="374" y="259.96999999999997" width="7" height="2.2" fill="#ff40ff"/>
<rect x="383" y="260.67" width="11" height="0.8" fill="#a8a8a8"/>
<rect x="370.5" y="264.86" width="1.5" height="0.8" fill="#999"/>
<rect x="374" y="264.15999999999997" width="7" height="2.2" fill="#ff00c0"/>
<circle cx="368" cy="269.45" r="1.1" fill="#111"/>
<rect x="370.5" y="269.05" width="1.5" height="0.8" fill="#999"/>
<rect x="374" y="268.34999999999997" width="7" height="2.2" fill="#a05830"/>
<rect x="383" y="269.05" width="11" height="0.8" fill="#a8a8a8"/>
<rect x="369.4" y="212.5" width="57.6" height="14.0" fill="#ffffff" opacity="0.45"/>
<text transform="translate(371.07,224.3) scale(1.03,1)" font-size="10.68" font-weight="bold" fill="#a8b4d8">メンバ情報</text>
<text transform="translate(370.17,223.4) scale(1.03,1)" font-size="10.68" font-weight="bold" fill="#6e3200" stroke="#6e3200" stroke-width="0.1">メンバ情報</text>
<text transform="translate(34.81,224.4) scale(0.987,1)" font-size="11.37" font-weight="bold" fill="#000" stroke="#000" stroke-width="0.1">VSTi</text>
<text transform="translate(20.57,238.5) scale(1.014,1)" font-size="10.0" font-weight="bold" fill="#000" stroke="#000" stroke-width="0.25">プラグイン</text>
<rect x="31.7" y="247.3" width="8.3" height="7.9" fill="#f8fafc" stroke="#a8b2c2" stroke-width="0.7"/>
<rect x="32.6" y="248.2" width="6.5" height="6.1" fill="#f0f8ff"/>
<rect x="32.8" y="248.6" width="3.2" height="0.8" fill="#3a8ae0"/>
<path d="M32.6,251.6 C34.4,251.0 36.4,252.2 39.1,252.3 L39.1,254.3 L32.6,254.3 Z" fill="#1f6a4a"/>
<rect x="40.849999999999994" y="247.3" width="8.3" height="7.9" fill="#f8fafc" stroke="#a8b2c2" stroke-width="0.7"/>
<rect x="41.75" y="248.2" width="6.5" height="6.1" fill="#a8e0f0"/>
<rect x="41.75" y="251.2" width="6.5" height="3.1" fill="#50b030"/>
<circle cx="43.15" cy="250.2" r="1.3" fill="#f05020"/>
<circle cx="46.55" cy="250.0" r="1.4" fill="#9070f0"/>
<rect x="45.55" y="252.8" width="2.7" height="1.5" fill="#f0f040"/>
<rect x="50.0" y="247.3" width="8.3" height="7.9" fill="#f8fafc" stroke="#a8b2c2" stroke-width="0.7"/>
<rect x="50.900000000000006" y="248.2" width="6.5" height="6.1" fill="#fff8f0"/>
<path d="M50.900000000000006,248.5 L53.7,248.5 C54.7,250.0 54.2,252.0 53.2,253.0 L50.900000000000006,253.0 Z" fill="#c81818"/>
<circle cx="55.5" cy="252.5" r="1.9" fill="#f0a020"/>
<circle cx="55.6" cy="252.9" r="0.8" fill="#222"/>
<rect x="31.7" y="256.5" width="8.3" height="7.9" fill="#f8fafc" stroke="#a8b2c2" stroke-width="0.7"/>
<rect x="32.6" y="257.4" width="6.5" height="6.1" fill="#2a4a9a"/>
<rect x="32.6" y="257.4" width="6.5" height="1.6" fill="#60a0e0"/>
<rect x="32.9" y="260.7" width="2.5" height="2.5" fill="#c02040"/>
<rect x="36.6" y="259.7" width="2" height="3.5" fill="#f07020"/>
<rect x="40.849999999999994" y="256.5" width="8.3" height="7.9" fill="#f8fafc" stroke="#a8b2c2" stroke-width="0.7"/>
<rect x="41.75" y="257.4" width="6.5" height="6.1" fill="#f0f8ff"/>
<rect x="41.949999999999996" y="257.8" width="3.2" height="0.8" fill="#3a8ae0"/>
<path d="M41.75,260.8 C43.55,260.2 45.55,261.4 48.25,261.5 L48.25,263.5 L41.75,263.5 Z" fill="#1f6a4a"/>
<rect x="50.0" y="256.5" width="8.3" height="7.9" fill="#f8fafc" stroke="#a8b2c2" stroke-width="0.7"/>
<rect x="50.900000000000006" y="257.4" width="6.5" height="6.1" fill="#a8e0f0"/>
<rect x="50.900000000000006" y="260.4" width="6.5" height="3.1" fill="#50b030"/>
<circle cx="52.300000000000004" cy="259.4" r="1.3" fill="#f05020"/>
<circle cx="55.7" cy="259.2" r="1.4" fill="#9070f0"/>
<rect x="54.7" y="262.0" width="2.7" height="1.5" fill="#f0f040"/>
<rect x="31.7" y="265.7" width="8.3" height="7.9" fill="#f8fafc" stroke="#a8b2c2" stroke-width="0.7"/>
<rect x="32.6" y="266.59999999999997" width="6.5" height="6.1" fill="#f0f8ff"/>
<rect x="32.8" y="267.0" width="3.2" height="0.8" fill="#3a8ae0"/>
<path d="M32.6,270.0 C34.4,269.4 36.4,270.59999999999997 39.1,270.7 L39.1,272.7 L32.6,272.7 Z" fill="#1f6a4a"/>
<rect x="40.849999999999994" y="265.7" width="8.3" height="7.9" fill="#f8fafc" stroke="#a8b2c2" stroke-width="0.7"/>
<rect x="41.75" y="266.59999999999997" width="6.5" height="6.1" fill="#2a4a9a"/>
<rect x="41.75" y="266.59999999999997" width="6.5" height="1.6" fill="#60a0e0"/>
<rect x="42.05" y="269.9" width="2.5" height="2.5" fill="#c02040"/>
<rect x="45.75" y="268.9" width="2" height="3.5" fill="#f07020"/>
<rect x="50.0" y="265.7" width="8.3" height="7.9" fill="#f8fafc" stroke="#a8b2c2" stroke-width="0.7"/>
<rect x="50.900000000000006" y="266.59999999999997" width="6.5" height="6.1" fill="#fff8f0"/>
<path d="M50.900000000000006,266.9 L53.7,266.9 C54.7,268.4 54.2,270.4 53.2,271.4 L50.900000000000006,271.4 Z" fill="#c81818"/>
<circle cx="55.5" cy="270.9" r="1.9" fill="#f0a020"/>
<circle cx="55.6" cy="271.29999999999995" r="0.8" fill="#222"/>
<text transform="translate(21.92,325.0) scale(1.105,1)" font-size="11.3" font-weight="normal" fill="#1a1020">muse.ini</text>
<path d="M23.5,333.8 L23.5,360.2 A20.75,4.3 0 0 0 65.0,360.2 L65.0,333.8 Z" fill="url(#cylg)" stroke="#333" stroke-width="1"/>
<ellipse cx="44.25" cy="333.8" rx="20.75" ry="4.3" fill="#9a9a9a" stroke="#333" stroke-width="1"/>
<text transform="translate(30.07,346.0) scale(1.127,1)" font-size="9.0" font-weight="bold" fill="#000" stroke="#000" stroke-width="0.25">初期化</text>
<text transform="translate(27.73,357.36) scale(0.863,1)" font-size="9.28" font-weight="bold" fill="#000" stroke="#000" stroke-width="0.2">ファイル</text>
<text transform="translate(21.91,382.53) scale(1.106,1)" font-size="11.35" font-weight="normal" fill="#1a1020">muse.log</text>
<path d="M23.5,388.8 L23.5,415.2 A20.75,4.3 0 0 0 65.0,415.2 L65.0,388.8 Z" fill="url(#cylg)" stroke="#333" stroke-width="1"/>
<ellipse cx="44.25" cy="388.8" rx="20.75" ry="4.3" fill="#9a9a9a" stroke="#333" stroke-width="1"/>
<text transform="translate(34.0,400.72) scale(1.058,1)" font-size="9.58" font-weight="bold" fill="#000" stroke="#000" stroke-width="0.25">履歴</text>
<text transform="translate(27.53,412.53) scale(0.824,1)" font-size="9.78" font-weight="bold" fill="#000" stroke="#000" stroke-width="0.2">ファイル</text>
<text transform="translate(635.07,215.08) scale(1.079,1)" font-size="11.58" font-weight="normal" fill="#1a1020">muse.rep</text>
<path d="M637,225.3 L637,252.2 A20.75,4.3 0 0 0 678.5,252.2 L678.5,225.3 Z" fill="url(#cylg)" stroke="#333" stroke-width="1"/>
<ellipse cx="657.75" cy="225.3" rx="20.75" ry="4.3" fill="#9a9a9a" stroke="#333" stroke-width="1"/>
<text transform="translate(641.06,237.68) scale(0.864,1)" font-size="9.93" font-weight="bold" fill="#000" stroke="#000" stroke-width="0.1">レポート</text>
<text transform="translate(641.73,249.36) scale(0.863,1)" font-size="9.28" font-weight="bold" fill="#000" stroke="#000" stroke-width="0.1">ファイル</text>
<text transform="translate(648.07,329.47999999999996) scale(1.135,1)" font-size="9.6" font-weight="bold" fill="#a0a8c0">LilyPond</text>
<text transform="translate(647.37,328.78) scale(1.135,1)" font-size="9.6" font-weight="bold" fill="#000">LilyPond</text>
<ellipse cx="677" cy="353" rx="11" ry="12.2" fill="#3e6442"/>
<ellipse cx="676.5" cy="352" rx="10.8" ry="11.8" fill="#5f8b62"/>
<ellipse cx="652.2" cy="361" rx="15.8" ry="12" fill="#3e6442"/>
<ellipse cx="651.9" cy="360" rx="15.5" ry="11.6" fill="#628e64"/>
<circle cx="652" cy="358" r="0.8" fill="#c8d040"/><circle cx="672" cy="351" r="0.8" fill="#c8d040"/>
<path d="M658.7,334.3 L660.6,339.8 L665.5,336.4 L663.6,341.8 L669.6,341.8 L664.7,345.2 L669.6,348.6 L663.6,348.6 L665.5,354.0 L660.6,350.6 L658.7,356.1 L656.8,350.6 L651.9,354.0 L653.8,348.6 L647.8,348.6 L652.7,345.2 L647.8,341.8 L653.8,341.8 L651.9,336.4 L656.8,339.8Z" fill="#f2f2f2" stroke="#c4c4c4" stroke-width="0.5"/>
<path d="M660.1,338.1 L660.7,342.1 L664.5,341.1 L662.1,344.3 L665.6,346.4 L661.6,347.0 L662.6,350.8 L659.4,348.4 L657.3,351.9 L656.7,347.9 L652.9,348.9 L655.3,345.7 L651.8,343.6 L655.8,343.0 L654.8,339.2 L658.0,341.6Z" fill="#ffffff" stroke="#d8d8d8" stroke-width="0.4"/>
<circle cx="658.7" cy="344.6" r="2.8" fill="#f49a18"/>
<circle cx="658.5" cy="344.3" r="1.3" fill="#ffd040"/>
<path d="M774.2,340 L778,342 L776.5,374 L772,376 Z" fill="#ece2bc"/>
<rect x="736" y="337.4" width="39" height="39" fill="#e0d8b8"/>
<rect x="735.2" y="336.4" width="39" height="39" fill="#fbf3d6"/>
<rect x="737" y="341.5" width="35" height="0.5" fill="#d8d4c4"/>
<rect x="737" y="344" width="35" height="0.5" fill="#d8d4c4"/>
<rect x="737" y="346.6" width="35" height="0.5" fill="#d8d4c4"/>
<rect x="737" y="349.2" width="35" height="0.5" fill="#d8d4c4"/>
<rect x="737" y="351.8" width="35" height="0.5" fill="#d8d4c4"/>
<rect x="737" y="359.5" width="35" height="0.5" fill="#d8d4c4"/>
<rect x="737" y="362" width="35" height="0.5" fill="#d8d4c4"/>
<rect x="737" y="364.6" width="35" height="0.5" fill="#d8d4c4"/>
<rect x="737" y="367.2" width="35" height="0.5" fill="#d8d4c4"/>
<rect x="737" y="369.8" width="35" height="0.5" fill="#d8d4c4"/>
<path d="M746.7,349.5 L747.7,342" stroke="#3050d0" stroke-width="0.9"/>
<path d="M747.5,342 L750.6,343 L751.4,344.8 L747.7,343.8 Z" fill="#1a30b0"/>
<circle cx="745.1" cy="350" r="2.2" fill="url(#ballg)"/>
<path d="M754.2,346.9 L755.2,340" stroke="#3050d0" stroke-width="0.9"/>
<circle cx="752.6" cy="347.4" r="2.2" fill="url(#ballg)"/>
<path d="M758.9,349.5 L759.9,340.6" stroke="#3050d0" stroke-width="0.9"/>
<circle cx="757.3" cy="350" r="2.2" fill="url(#ballg)"/>
<path d="M755,340 L760,340.8 L760,342.8 L755,342 Z" fill="#1a30b0"/>
<path d="M764.0,352.4 L765.0,345" stroke="#3050d0" stroke-width="0.9"/>
<path d="M764.8,345 L767.9,346 L768.6999999999999,347.8 L765.0,346.8 Z" fill="#1a30b0"/>
<circle cx="762.4" cy="352.9" r="2.2" fill="url(#ballg)"/>
<path d="M741.5,363.5 L742.5,356.5" stroke="#3050d0" stroke-width="0.9"/>
<circle cx="739.9" cy="364" r="2.2" fill="url(#ballg)"/>
<path d="M745.7,366.0 L746.7,357.4" stroke="#3050d0" stroke-width="0.9"/>
<circle cx="744.1" cy="366.5" r="2.2" fill="url(#ballg)"/>
<path d="M742.3,356.5 L746.8,357.4 L746.8,359.4 L742.3,358.5 Z" fill="#1a30b0"/>
<path d="M751.2,368.5 L752.2,361.4" stroke="#3050d0" stroke-width="0.9"/>
<path d="M752.0,361.4 L755.1,362.4 L755.9,364.2 L752.2,363.2 Z" fill="#1a30b0"/>
<circle cx="749.6" cy="369" r="2.2" fill="url(#ballg)"/>
<path d="M759.3000000000001,367.3 L760.3000000000001,360.2" stroke="#3050d0" stroke-width="0.9"/>
<path d="M760.1,360.2 L763.2,361.2 L764.0,363.0 L760.3000000000001,362.0 Z" fill="#1a30b0"/>
<circle cx="757.7" cy="367.8" r="2.2" fill="url(#ballg)"/>
<text transform="translate(756.83,332.5) scale(1.197,1)" font-size="8.66" font-weight="bold" fill="#000" stroke="#000" stroke-width="0.2">楽譜.PDF</text>
<text transform="translate(623.55,430.77) scale(1.145,1)" font-size="9.2" font-weight="bold" fill="#000" stroke="#000" stroke-width="0.15">MIDI音源</text>
<rect x="726" y="425.2" width="6.7" height="18.2" fill="#e2e2e2"/>
<defs><linearGradient id="drvside" x1="0" y1="0" x2="1" y2="0"><stop offset="0" stop-color="#6a6a80"/><stop offset="1" stop-color="#2e2e48"/></linearGradient></defs>
<path d="M656,437.6 L679.8,426 L726.1,426 L713.4,437.6 Z" fill="#0e2446"/>
<path d="M672.6,435.6 L685.3,427.9 L714.5,427.9 L705.1,435.6 Z" fill="#857a18"/>
<path d="M683,429.2 L685.3,427.9 L714.5,427.9 L713,429.2 Z" fill="#a8a070"/>
<path d="M713.4,437.6 L726.1,426 L726.1,445.6 L713.4,456.6 Z" fill="url(#drvside)"/>
<rect x="656" y="437.6" width="57.4" height="19" fill="#c6c2c6"/>
<rect x="660.5" y="441.2" width="48" height="8.8" fill="#d2ced2"/>
<rect x="660.5" y="449.2" width="48" height="1" fill="#8e8a8e"/>
<rect x="661.6" y="443.6" width="7.5" height="1" fill="#8070a0"/>
<path d="M679,444 C680,442.5 683,442.5 684,444 C683,446 680,446 679,444" fill="none" stroke="#c08040" stroke-width="0.9"/>
<rect x="688" y="443.5" width="5" height="1" fill="#c0b0a0"/>
<rect x="692.5" y="453.3" width="6" height="1.2" fill="#555"/><circle cx="700.7" cy="453.2" r="0.6" fill="#40c040"/><rect x="703" y="452.2" width="5.5" height="2.8" fill="none" stroke="#888" stroke-width="0.5"/>
<path d="M740.2,467.5 C740,471 745,470.5 744.6,466.5 L742.8,440 C742.5,434.5 748.5,435 748,440.5 C747.5,446 738.5,449.5 737.8,456 C737.2,462 747.8,463 748,457.5 C748.2,452.5 741.5,452 741,456.5" fill="none" stroke="#111" stroke-width="1.5" stroke-linecap="round"/>
<path d="M745.5,436.8 C748,437 748.6,440 747.5,442.5" fill="none" stroke="#40b8d8" stroke-width="1.1"/>
<path d="M738.2,453.5 C737,456 737.5,459 739.5,460.5" fill="none" stroke="#6060c8" stroke-width="0.9"/>
<ellipse cx="753.4" cy="454.3" rx="2.3" ry="1.8" fill="#fff" stroke="#111" stroke-width="1.1"/>
<ellipse cx="760.4" cy="452.6" rx="2.3" ry="1.8" fill="#fff" stroke="#111" stroke-width="1.1"/>
<path d="M755.5,454 L755.5,446.2 M762.5,452.3 L762.5,444.6" stroke="#111" stroke-width="1.1"/>
<path d="M755,446.5 L763,444.6 L763,446.3 L755,448.2 Z" fill="#111"/>
<path d="M754.8,448 L755.2,452" stroke="#b0d040" stroke-width="0.8"/>
<ellipse cx="766.5" cy="448" rx="2.4" ry="1.8" fill="#e0a020" stroke="#111" stroke-width="0.9"/>
<path d="M768.6,447.6 L768.6,440 C770,441.5 772.5,441.2 774,443.5" fill="none" stroke="#111" stroke-width="1.2"/>
<text transform="translate(742.3,485.66) scale(1.113,1)" font-size="8.95" font-weight="bold" fill="#000" stroke="#000" stroke-width="0.25">演奏／試聴</text>
<defs><linearGradient id="silv2" x1="0.2" y1="0" x2="0.8" y2="1"><stop offset="0" stop-color="#f4f4f4"/><stop offset="0.5" stop-color="#c4c4c4"/><stop offset="1" stop-color="#6a6a6a"/></linearGradient><linearGradient id="silv3" x1="0.2" y1="0" x2="0.8" y2="1"><stop offset="0" stop-color="#ffffff"/><stop offset="0.6" stop-color="#d0d0d0"/><stop offset="1" stop-color="#9a9a9a"/></linearGradient></defs>
<path d="M646.48,482.62 L650.39,483.39 L650.39,489.21 L646.48,489.98 L644.43,494.93 L646.65,498.23 L642.53,502.35 L639.23,500.13 L634.28,502.18 L633.51,506.09 L627.69,506.09 L626.92,502.18 L621.97,500.13 L618.67,502.35 L614.55,498.23 L616.77,494.93 L614.72,489.98 L610.81,489.21 L610.81,483.39 L614.72,482.62 L616.77,477.67 L614.55,474.37 L618.67,470.25 L621.97,472.47 L626.92,470.42 L627.69,466.51 L633.51,466.51 L634.28,470.42 L639.23,472.47 L642.53,470.25 L646.65,474.37 L644.43,477.67Z" fill="#555" opacity="0.5"/>
<path d="M645.58,481.62 L649.49,482.39 L649.49,488.21 L645.58,488.98 L643.53,493.93 L645.75,497.23 L641.63,501.35 L638.33,499.13 L633.38,501.18 L632.61,505.09 L626.79,505.09 L626.02,501.18 L621.07,499.13 L617.77,501.35 L613.65,497.23 L615.87,493.93 L613.82,488.98 L609.91,488.21 L609.91,482.39 L613.82,481.62 L615.87,476.67 L613.65,473.37 L617.77,469.25 L621.07,471.47 L626.02,469.42 L626.79,465.51 L632.61,465.51 L633.38,469.42 L638.33,471.47 L641.63,469.25 L645.75,473.37 L643.53,476.67Z" fill="url(#silv2)" stroke="#8a8a8a" stroke-width="0.6"/>
<circle cx="629.7" cy="485.3" r="13.6" fill="url(#silv3)" stroke="#555" stroke-width="0.9"/>
<circle cx="629.7" cy="485.3" r="11.5" fill="none" stroke="#e8e8e8" stroke-width="0.8"/>
<circle cx="629.7" cy="485.5" r="5.8" fill="#c8c8c8" stroke="#8a8a8a" stroke-width="0.7"/>
<path d="M625.5,486.5 L633.5,483.5" stroke="#ffffff" stroke-width="2.2" stroke-linecap="round"/>
<text transform="translate(649.86,503.83) scale(0.971,1)" font-size="8.84" font-weight="bold" fill="#8890a8">VirtualMIDISynth</text>
<text transform="translate(649.16,503.13) scale(0.971,1)" font-size="8.84" font-weight="bold" fill="#10141c">VirtualMIDISynth</text>
<circle cx="629.9" cy="550.2" r="13.6" fill="url(#redg)"/>
<ellipse cx="627" cy="543.5" rx="8" ry="5" fill="#ffffff" opacity="0.25"/>
<path d="M628.5,543.5 L631.6,543.4 L631.6,555 L630.4,555 Z" fill="#222"/>
<path d="M628.6,542.8 C631,542.5 633.5,544 636,543.8 L636.8,548.8 C634.5,548.6 632.5,547.5 631.2,548.5 Z" fill="#7a7a7a" stroke="#333" stroke-width="0.6"/>
<ellipse cx="627.9" cy="555" rx="4.4" ry="3" transform="rotate(-15 627.9 555)" fill="#000" stroke="#ffffff" stroke-width="0.7" stroke-opacity="0.6"/>
<text transform="translate(646.74,541.3000000000001) scale(0.848,1)" font-size="9.33" font-weight="bold" fill="#a0a8c0">サウンドフォント</text>
<text transform="translate(646.04,540.6) scale(0.848,1)" font-size="9.33" font-weight="bold" fill="#000" stroke="#000" stroke-width="0.2">サウンドフォント</text>
<g transform="translate(52.5,468.5) scale(0.97)"><defs><clipPath id="cdclip2"><ellipse cx="0" cy="0" rx="16.5" ry="11.5" transform="rotate(-12)"/></clipPath></defs><ellipse cx="1" cy="2" rx="17" ry="11.5" fill="#9aa6b8" opacity="0.45"/><g clip-path="url(#cdclip2)"><path d="M0,0 L-20.00,0.00 L-16.18,-11.76 Z" fill="#f4f0a0"/><path d="M0,0 L-16.18,-11.76 L-6.18,-19.02 Z" fill="#d8f0b0"/><path d="M0,0 L-6.18,-19.02 L6.18,-19.02 Z" fill="#b8e8c8"/><path d="M0,0 L6.18,-19.02 L16.18,-11.76 Z" fill="#f0f0f8"/><path d="M0,0 L16.18,-11.76 L20.00,-0.00 Z" fill="#f0c8e0"/><path d="M0,0 L20.00,-0.00 L16.18,11.76 Z" fill="#d8c8f0"/><path d="M0,0 L16.18,11.76 L6.18,19.02 Z" fill="#a8d8f8"/><path d="M0,0 L6.18,19.02 L-6.18,19.02 Z" fill="#98e8f0"/><path d="M0,0 L-6.18,19.02 L-16.18,11.76 Z" fill="#e8f8f8"/><path d="M0,0 L-16.18,11.76 L-20.00,0.00 Z" fill="#c8d8f0"/></g><ellipse cx="0" cy="0" rx="16.5" ry="11.5" transform="rotate(-12)" fill="none" stroke="#8890a8" stroke-width="0.8"/><ellipse cx="0" cy="0" rx="5" ry="3.2" transform="rotate(-12)" fill="#d8d8d8" stroke="#999" stroke-width="0.8"/><ellipse cx="0" cy="0" rx="2.2" ry="1.4" transform="rotate(-12)" fill="#fff"/><path d="M-12,-21 L-10.5,-21 C-6,-18 2,-19 6,-16 L6,-8 C2,-11 -6,-10 -10.5,-13 L-10.5,3 L-12,3 Z" fill="url(#noteg)"/><circle cx="-17.8" cy="5.5" r="6.3" fill="url(#ballg)"/></g>
<text transform="translate(39.1,492.64) scale(1.153,1)" font-size="8.7" font-weight="bold" fill="#000" stroke="#000" stroke-width="0.25">音声</text>
<text transform="translate(38.23,503.23) scale(0.884,1)" font-size="9.11" font-weight="bold" fill="#000" stroke="#000" stroke-width="0.2">ファイル</text>
<rect x="188" y="438" width="253.5" height="61.5" fill="#4f9a4f"/>
<rect x="189" y="439" width="251.5" height="8.5" fill="url(#tbar)"/>
<rect x="411" y="439.5" width="7" height="4.5" fill="#b8d0b8" rx="0.8"/><rect x="418.5" y="439.5" width="7" height="4.5" fill="#b8d0b8" rx="0.8"/><rect x="426" y="439.5" width="13" height="4.5" fill="#d85a3a" rx="0.8"/>
<text transform="translate(196.32,445.3) scale(0.684,1)" font-size="6" font-weight="normal" fill="#4a584a" >ウルトラセブン.mus → 01:09</text>
<rect x="191.2" y="440" width="4" height="4.5" fill="#f0e8e8"/><rect x="192" y="442.5" width="2.5" height="1.5" fill="#d03030"/>
<rect x="190" y="447.5" width="249.5" height="7.2" fill="#e6e8f4"/>
<text transform="translate(192.09,453.2) scale(0.737,1)" font-size="5.5" font-weight="normal" fill="#6a6a6a" >ファイル(F)</text>
<text transform="translate(217.43,453.2) scale(0.729,1)" font-size="5.5" font-weight="normal" fill="#6a6a6a" >機能(Q)</text>
<text transform="translate(235.66,453.2) scale(0.748,1)" font-size="5.5" font-weight="normal" fill="#6a6a6a" >履歴(H)</text>
<text transform="translate(253.96,453.2) scale(0.765,1)" font-size="5.5" font-weight="normal" fill="#6a6a6a" >表示(V)</text>
<text transform="translate(361.25,453.2) scale(0.812,1)" font-size="5.2" font-weight="normal" fill="#6a6a6a" >Presented by Ichiro Kato ( Version 7.38 )</text>
<rect x="190" y="454.7" width="249.5" height="5" fill="#f6f6f8"/>
<rect x="191" y="457.8" width="247" height="0.5" fill="#c8c8d0"/><rect x="191.5" y="455.8" width="4" height="1.8" fill="#bbb"/><rect x="234" y="455.8" width="4" height="1.8" fill="#bbb"/><rect x="434" y="455.8" width="4" height="1.8" fill="#bbb"/>
<rect x="190" y="459.7" width="249.5" height="9.3" fill="#e6e8f8"/>
<text transform="translate(193.19,467) scale(0.69,1)" font-size="6" font-weight="bold" fill="#2a2af0" >ウルトラセブン</text>
<text transform="translate(226.54,467) scale(0.91,1)" font-size="6" font-weight="normal" fill="#2a2af0" >★☆★☆★☆★</text>
<text transform="translate(268.24,467) scale(0.88,1)" font-size="6" font-weight="bold" fill="#2a2af0" >(作詞)東京一</text>
<text transform="translate(301.74,467) scale(0.878,1)" font-size="6" font-weight="bold" fill="#2a2af0" >(作曲)冬木透</text>
<text transform="translate(335.76,467) scale(0.814,1)" font-size="6" font-weight="bold" fill="#2a2af0" >(歌)ジ-エコーズ ＆ みすず児童合唱団</text>
<rect x="191.0" y="469.2" width="248.416" height="28.0" fill="#ffffff"/>
<rect x="191.00" y="469.2" width="0.7" height="28.0" fill="#9a9a9a"/>
<rect x="195.44" y="469.2" width="0.7" height="28.0" fill="#9a9a9a"/>
<rect x="199.87" y="469.2" width="0.7" height="28.0" fill="#9a9a9a"/>
<rect x="204.31" y="469.2" width="0.7" height="28.0" fill="#9a9a9a"/>
<rect x="208.74" y="469.2" width="0.7" height="28.0" fill="#9a9a9a"/>
<rect x="213.18" y="469.2" width="0.7" height="28.0" fill="#9a9a9a"/>
<rect x="217.62" y="469.2" width="0.7" height="28.0" fill="#9a9a9a"/>
<rect x="222.05" y="469.2" width="0.7" height="28.0" fill="#9a9a9a"/>
<rect x="226.49" y="469.2" width="0.7" height="28.0" fill="#9a9a9a"/>
<rect x="230.92" y="469.2" width="0.7" height="28.0" fill="#9a9a9a"/>
<rect x="235.36" y="469.2" width="0.7" height="28.0" fill="#9a9a9a"/>
<rect x="239.80" y="469.2" width="0.7" height="28.0" fill="#9a9a9a"/>
<rect x="244.23" y="469.2" width="0.7" height="28.0" fill="#9a9a9a"/>
<rect x="248.67" y="469.2" width="0.7" height="28.0" fill="#9a9a9a"/>
<rect x="253.10" y="469.2" width="0.7" height="28.0" fill="#9a9a9a"/>
<rect x="257.54" y="469.2" width="0.7" height="28.0" fill="#9a9a9a"/>
<rect x="261.98" y="469.2" width="0.7" height="28.0" fill="#9a9a9a"/>
<rect x="266.41" y="469.2" width="0.7" height="28.0" fill="#9a9a9a"/>
<rect x="270.85" y="469.2" width="0.7" height="28.0" fill="#9a9a9a"/>
<rect x="275.28" y="469.2" width="0.7" height="28.0" fill="#9a9a9a"/>
<rect x="279.72" y="469.2" width="0.7" height="28.0" fill="#9a9a9a"/>
<rect x="284.46" y="469.2" width="3.84" height="28.0" fill="#2196f3"/>
<rect x="284.16" y="469.2" width="0.7" height="28.0" fill="#9a9a9a"/>
<rect x="288.59" y="469.2" width="0.7" height="28.0" fill="#9a9a9a"/>
<rect x="293.03" y="469.2" width="0.7" height="28.0" fill="#9a9a9a"/>
<rect x="297.46" y="469.2" width="0.7" height="28.0" fill="#9a9a9a"/>
<rect x="301.90" y="469.2" width="0.7" height="28.0" fill="#9a9a9a"/>
<rect x="306.64" y="469.2" width="3.84" height="28.0" fill="#10d8a0"/>
<rect x="306.34" y="469.2" width="0.7" height="28.0" fill="#9a9a9a"/>
<rect x="310.77" y="469.2" width="0.7" height="28.0" fill="#9a9a9a"/>
<rect x="315.51" y="469.2" width="3.84" height="28.0" fill="#10d0f0"/>
<rect x="315.21" y="469.2" width="0.7" height="28.0" fill="#9a9a9a"/>
<rect x="319.64" y="469.2" width="0.7" height="28.0" fill="#9a9a9a"/>
<rect x="324.08" y="469.2" width="0.7" height="28.0" fill="#9a9a9a"/>
<rect x="328.52" y="469.2" width="0.7" height="28.0" fill="#9a9a9a"/>
<rect x="333.25" y="469.2" width="3.84" height="28.0" fill="#ff7050"/>
<rect x="332.95" y="469.2" width="0.7" height="28.0" fill="#9a9a9a"/>
<rect x="337.69" y="469.2" width="3.84" height="28.0" fill="#9a60ff"/>
<rect x="337.39" y="469.2" width="0.7" height="28.0" fill="#9a9a9a"/>
<rect x="341.82" y="469.2" width="0.7" height="28.0" fill="#9a9a9a"/>
<rect x="346.26" y="469.2" width="0.7" height="28.0" fill="#9a9a9a"/>
<rect x="351.00" y="469.2" width="3.84" height="28.0" fill="#ff7050"/>
<rect x="350.70" y="469.2" width="0.7" height="28.0" fill="#9a9a9a"/>
<rect x="355.13" y="469.2" width="0.7" height="28.0" fill="#9a9a9a"/>
<rect x="359.57" y="469.2" width="0.7" height="28.0" fill="#9a9a9a"/>
<rect x="364.00" y="469.2" width="0.7" height="28.0" fill="#9a9a9a"/>
<rect x="368.74" y="469.2" width="3.84" height="28.0" fill="#10d0a0"/>
<rect x="368.44" y="469.2" width="0.7" height="28.0" fill="#9a9a9a"/>
<rect x="372.88" y="469.2" width="0.7" height="28.0" fill="#9a9a9a"/>
<rect x="377.31" y="469.2" width="0.7" height="28.0" fill="#9a9a9a"/>
<rect x="381.75" y="469.2" width="0.7" height="28.0" fill="#9a9a9a"/>
<rect x="386.18" y="469.2" width="0.7" height="28.0" fill="#9a9a9a"/>
<rect x="390.62" y="469.2" width="0.7" height="28.0" fill="#9a9a9a"/>
<rect x="395.06" y="469.2" width="0.7" height="28.0" fill="#9a9a9a"/>
<rect x="399.49" y="469.2" width="0.7" height="28.0" fill="#9a9a9a"/>
<rect x="403.93" y="469.2" width="0.7" height="28.0" fill="#9a9a9a"/>
<rect x="408.36" y="469.2" width="0.7" height="28.0" fill="#9a9a9a"/>
<rect x="412.80" y="469.2" width="0.7" height="28.0" fill="#9a9a9a"/>
<rect x="417.24" y="469.2" width="0.7" height="28.0" fill="#9a9a9a"/>
<rect x="421.67" y="469.2" width="0.7" height="28.0" fill="#9a9a9a"/>
<rect x="426.11" y="469.2" width="0.7" height="28.0" fill="#9a9a9a"/>
<rect x="430.54" y="469.2" width="0.7" height="28.0" fill="#9a9a9a"/>
<rect x="434.98" y="469.2" width="0.7" height="28.0" fill="#9a9a9a"/>
<rect x="194.19" y="469.2" width="2.5" height="18.5" fill="#2a2a2a"/>
<rect x="198.62" y="469.2" width="2.5" height="18.5" fill="#2a2a2a"/>
<rect x="203.06" y="469.2" width="2.5" height="18.5" fill="#2a2a2a"/>
<rect x="211.93" y="469.2" width="2.5" height="18.5" fill="#2a2a2a"/>
<rect x="216.37" y="469.2" width="2.5" height="18.5" fill="#2a2a2a"/>
<rect x="225.24" y="469.2" width="2.5" height="18.5" fill="#2a2a2a"/>
<rect x="229.67" y="469.2" width="2.5" height="18.5" fill="#2a2a2a"/>
<rect x="234.11" y="469.2" width="2.5" height="18.5" fill="#2a2a2a"/>
<rect x="242.98" y="469.2" width="2.5" height="18.5" fill="#2a2a2a"/>
<rect x="247.42" y="469.2" width="2.5" height="18.5" fill="#2a2a2a"/>
<rect x="256.29" y="469.2" width="2.5" height="18.5" fill="#2a2a2a"/>
<rect x="260.73" y="469.2" width="2.5" height="18.5" fill="#2a2a2a"/>
<rect x="265.16" y="469.2" width="2.5" height="18.5" fill="#20c040"/>
<rect x="274.03" y="469.2" width="2.5" height="18.5" fill="#2a2a2a"/>
<rect x="278.47" y="469.2" width="2.5" height="18.5" fill="#2a2a2a"/>
<rect x="287.34" y="469.2" width="2.5" height="18.5" fill="#2a2a2a"/>
<rect x="291.78" y="469.2" width="2.5" height="18.5" fill="#2a2a2a"/>
<rect x="296.21" y="469.2" width="2.5" height="18.5" fill="#40b8f0"/>
<rect x="305.09" y="469.2" width="2.5" height="18.5" fill="#2a2a2a"/>
<rect x="309.52" y="469.2" width="2.5" height="18.5" fill="#2a2a2a"/>
<rect x="318.39" y="469.2" width="2.5" height="18.5" fill="#2a2a2a"/>
<rect x="322.83" y="469.2" width="2.5" height="18.5" fill="#30d0e8"/>
<rect x="327.27" y="469.2" width="2.5" height="18.5" fill="#c0a0f0"/>
<rect x="336.14" y="469.2" width="2.5" height="18.5" fill="#2a2a2a"/>
<rect x="340.57" y="469.2" width="2.5" height="18.5" fill="#2a2a2a"/>
<rect x="349.45" y="469.2" width="2.5" height="18.5" fill="#2a2a2a"/>
<rect x="353.88" y="469.2" width="2.5" height="18.5" fill="#2a2a2a"/>
<rect x="358.32" y="469.2" width="2.5" height="18.5" fill="#e040e0"/>
<rect x="367.19" y="469.2" width="2.5" height="18.5" fill="#2a2a2a"/>
<rect x="371.63" y="469.2" width="2.5" height="18.5" fill="#e040e0"/>
<rect x="380.50" y="469.2" width="2.5" height="18.5" fill="#2a2a2a"/>
<rect x="384.93" y="469.2" width="2.5" height="18.5" fill="#2a2a2a"/>
<rect x="389.37" y="469.2" width="2.5" height="18.5" fill="#2a2a2a"/>
<rect x="398.24" y="469.2" width="2.5" height="18.5" fill="#2a2a2a"/>
<rect x="402.68" y="469.2" width="2.5" height="18.5" fill="#2a2a2a"/>
<rect x="411.55" y="469.2" width="2.5" height="18.5" fill="#2a2a2a"/>
<rect x="415.99" y="469.2" width="2.5" height="18.5" fill="#2a2a2a"/>
<rect x="420.42" y="469.2" width="2.5" height="18.5" fill="#2a2a2a"/>
<rect x="429.29" y="469.2" width="2.5" height="18.5" fill="#2a2a2a"/>
<rect x="433.73" y="469.2" width="2.5" height="18.5" fill="#2a2a2a"/>
<rect x="191.0" y="469.2" width="248.416" height="0.8" fill="#333"/>
<rect x="257.9" y="472.9" width="72.6" height="14.3" fill="#ffffff" opacity="0.45"/>
<text transform="translate(260.46999999999997,484.95) scale(0.912,1)" font-size="10.98" font-weight="bold" fill="#a8b4d8">鍵盤ウィンドウ</text>
<text transform="translate(259.57,484.05) scale(0.912,1)" font-size="10.98" font-weight="bold" fill="#6e3200" stroke="#6e3200" stroke-width="0.1">鍵盤ウィンドウ</text>
<rect x="142.5" y="554.5" width="72" height="48.5" fill="#74ad74" stroke="#5a7e5a" stroke-width="1"/>
<rect x="143" y="555" width="71" height="3.5" fill="url(#tbar)"/>
<rect x="143.5" y="558.5" width="70" height="43.5" fill="#fff"/>
<circle cx="144.8" cy="556.75" r="0.9" fill="#4a6ae0"/>
<rect x="146.5" y="556.25" width="12.0" height="1" fill="#5a6a5a" opacity="0.55"/>
<rect x="207.7" y="555.1" width="5.5" height="3.1" fill="#d0604a" rx="0.6"/>
<rect x="143.5" y="558.5" width="70" height="43.5" fill="#dcdcdc"/>
<rect x="147" y="563.5" width="4" height="2.5" fill="#ff0060"/>
<rect x="147" y="566.0" width="4" height="2.5" fill="#ff8060"/>
<rect x="147" y="568.5" width="4" height="2.5" fill="#ffc080"/>
<rect x="147" y="571.0" width="4" height="2.5" fill="#ffe040"/>
<rect x="147" y="573.5" width="4" height="2.5" fill="#c0ff40"/>
<rect x="147" y="576.0" width="4" height="2.5" fill="#00c000"/>
<rect x="147" y="578.5" width="4" height="2.5" fill="#006040"/>
<rect x="147" y="581.0" width="4" height="2.5" fill="#00c0a0"/>
<rect x="147" y="583.5" width="4" height="2.5" fill="#00e0ff"/>
<rect x="147" y="586.0" width="4" height="2.5" fill="#20a0ff"/>
<rect x="147" y="588.5" width="4" height="2.5" fill="#2060ff"/>
<rect x="147" y="591.0" width="4" height="2.5" fill="#8040ff"/>
<rect x="147" y="593.5" width="4" height="2.5" fill="#ff40ff"/>
<rect x="147" y="596.0" width="4" height="2.5" fill="#ff00c0"/>
<rect x="147" y="598.5" width="4" height="2.5" fill="#a06040"/>
<defs><linearGradient id="rainb" x1="0" x2="1"><stop offset="0" stop-color="#ff4060"/><stop offset="0.25" stop-color="#ffe040"/><stop offset="0.5" stop-color="#40ff60"/><stop offset="0.75" stop-color="#40c0ff"/><stop offset="1" stop-color="#2040ff"/></linearGradient><linearGradient id="trig" x1="0" y1="0" x2="1" y2="1"><stop offset="0" stop-color="#20ff90"/><stop offset="0.6" stop-color="#208050"/><stop offset="1" stop-color="#101010"/></linearGradient><linearGradient id="trig2" x1="0" y1="0" x2="1" y2="0"><stop offset="0" stop-color="#000" stop-opacity="0.8"/><stop offset="0.5" stop-color="#000" stop-opacity="0"/><stop offset="1" stop-color="#fff" stop-opacity="0.7"/></linearGradient></defs>
<rect x="153" y="559.8" width="46" height="1.9" fill="url(#rainb)"/>
<rect x="182.6" y="562.1" width="0.15" height="2.1" fill="#00ff6e"/>
<rect x="180.7" y="564.1" width="2.09" height="2.1" fill="#04f16a"/>
<rect x="182.6" y="564.1" width="2.09" height="2.1" fill="#0cf972"/>
<rect x="178.7" y="566.1" width="2.09" height="2.1" fill="#04e063"/>
<rect x="180.7" y="566.1" width="2.09" height="2.1" fill="#0ce86b"/>
<rect x="182.6" y="566.1" width="2.09" height="2.1" fill="#14f073"/>
<rect x="184.5" y="566.1" width="2.09" height="2.1" fill="#1cf87b"/>
<rect x="176.8" y="568.1" width="2.09" height="2.1" fill="#04ce5b"/>
<rect x="178.7" y="568.1" width="2.09" height="2.1" fill="#0cd663"/>
<rect x="180.7" y="568.1" width="2.09" height="2.1" fill="#14df6b"/>
<rect x="182.6" y="568.1" width="2.09" height="2.1" fill="#1ce774"/>
<rect x="184.5" y="568.1" width="2.09" height="2.1" fill="#25ef7c"/>
<rect x="186.5" y="568.1" width="2.09" height="2.1" fill="#2df784"/>
<rect x="174.8" y="570.1" width="2.09" height="2.1" fill="#04bd53"/>
<rect x="176.8" y="570.1" width="2.09" height="2.1" fill="#0cc55c"/>
<rect x="178.7" y="570.1" width="2.09" height="2.1" fill="#14cd64"/>
<rect x="180.7" y="570.1" width="2.09" height="2.1" fill="#1cd56c"/>
<rect x="182.6" y="570.1" width="2.09" height="2.1" fill="#25de74"/>
<rect x="184.5" y="570.1" width="2.09" height="2.1" fill="#2de67d"/>
<rect x="186.5" y="570.1" width="2.09" height="2.1" fill="#35ee85"/>
<rect x="188.4" y="570.1" width="2.09" height="2.1" fill="#3df68d"/>
<rect x="172.9" y="572.1" width="2.09" height="2.1" fill="#04ab4c"/>
<rect x="174.8" y="572.1" width="2.09" height="2.1" fill="#0cb354"/>
<rect x="176.8" y="572.1" width="2.09" height="2.1" fill="#14bb5c"/>
<rect x="178.7" y="572.1" width="2.09" height="2.1" fill="#1cc465"/>
<rect x="180.7" y="572.1" width="2.09" height="2.1" fill="#25cc6d"/>
<rect x="182.6" y="572.1" width="2.09" height="2.1" fill="#2dd475"/>
<rect x="184.5" y="572.1" width="2.09" height="2.1" fill="#35dc7d"/>
<rect x="186.5" y="572.1" width="2.09" height="2.1" fill="#3de586"/>
<rect x="188.4" y="572.1" width="2.09" height="2.1" fill="#46ed8e"/>
<rect x="190.4" y="572.1" width="2.09" height="2.1" fill="#4ef596"/>
<rect x="171.0" y="574.1" width="2.09" height="2.1" fill="#049944"/>
<rect x="172.9" y="574.1" width="2.09" height="2.1" fill="#0ca24d"/>
<rect x="174.8" y="574.1" width="2.09" height="2.1" fill="#14aa55"/>
<rect x="176.8" y="574.1" width="2.09" height="2.1" fill="#1cb25d"/>
<rect x="178.7" y="574.1" width="2.09" height="2.1" fill="#25ba65"/>
<rect x="180.7" y="574.1" width="2.09" height="2.1" fill="#2dc36e"/>
<rect x="182.6" y="574.1" width="2.09" height="2.1" fill="#35cb76"/>
<rect x="184.5" y="574.1" width="2.09" height="2.1" fill="#3dd37e"/>
<rect x="186.5" y="574.1" width="2.09" height="2.1" fill="#46db86"/>
<rect x="188.4" y="574.1" width="2.09" height="2.1" fill="#4ee48e"/>
<rect x="190.4" y="574.1" width="2.09" height="2.1" fill="#56ec97"/>
<rect x="192.3" y="574.1" width="2.09" height="2.1" fill="#5ef49f"/>
<rect x="169.0" y="576.1" width="2.09" height="2.1" fill="#04883d"/>
<rect x="171.0" y="576.1" width="2.09" height="2.1" fill="#0c9045"/>
<rect x="172.9" y="576.1" width="2.09" height="2.1" fill="#14984d"/>
<rect x="174.8" y="576.1" width="2.09" height="2.1" fill="#1ca155"/>
<rect x="176.8" y="576.1" width="2.09" height="2.1" fill="#25a95e"/>
<rect x="178.7" y="576.1" width="2.09" height="2.1" fill="#2db166"/>
<rect x="180.7" y="576.1" width="2.09" height="2.1" fill="#35b96e"/>
<rect x="182.6" y="576.1" width="2.09" height="2.1" fill="#3dc276"/>
<rect x="184.5" y="576.1" width="2.09" height="2.1" fill="#46ca7f"/>
<rect x="186.5" y="576.1" width="2.09" height="2.1" fill="#4ed287"/>
<rect x="188.4" y="576.1" width="2.09" height="2.1" fill="#56da8f"/>
<rect x="190.4" y="576.1" width="2.09" height="2.1" fill="#5ee397"/>
<rect x="192.3" y="576.1" width="2.09" height="2.1" fill="#67eba0"/>
<rect x="194.2" y="576.1" width="2.09" height="2.1" fill="#6ff3a8"/>
<rect x="167.1" y="578.1" width="2.09" height="2.1" fill="#047635"/>
<rect x="169.0" y="578.1" width="2.09" height="2.1" fill="#0c7f3d"/>
<rect x="171.0" y="578.1" width="2.09" height="2.1" fill="#148746"/>
<rect x="172.9" y="578.1" width="2.09" height="2.1" fill="#1c8f4e"/>
<rect x="174.8" y="578.1" width="2.09" height="2.1" fill="#259756"/>
<rect x="176.8" y="578.1" width="2.09" height="2.1" fill="#2da05e"/>
<rect x="178.7" y="578.1" width="2.09" height="2.1" fill="#35a867"/>
<rect x="180.7" y="578.1" width="2.09" height="2.1" fill="#3db06f"/>
<rect x="182.6" y="578.1" width="2.09" height="2.1" fill="#46b877"/>
<rect x="184.5" y="578.1" width="2.09" height="2.1" fill="#4ec17f"/>
<rect x="186.5" y="578.1" width="2.09" height="2.1" fill="#56c988"/>
<rect x="188.4" y="578.1" width="2.09" height="2.1" fill="#5ed190"/>
<rect x="190.4" y="578.1" width="2.09" height="2.1" fill="#67d998"/>
<rect x="192.3" y="578.1" width="2.09" height="2.1" fill="#6fe2a0"/>
<rect x="194.2" y="578.1" width="2.09" height="2.1" fill="#77eaa9"/>
<rect x="196.2" y="578.1" width="2.09" height="2.1" fill="#7ff2b1"/>
<rect x="165.2" y="580.1" width="2.20" height="2.1" fill="#04652e"/>
<rect x="167.2" y="580.1" width="2.20" height="2.1" fill="#0d6e37"/>
<rect x="169.3" y="580.1" width="2.20" height="2.1" fill="#15773f"/>
<rect x="171.3" y="580.1" width="2.20" height="2.1" fill="#1e7f48"/>
<rect x="173.4" y="580.1" width="2.20" height="2.1" fill="#278851"/>
<rect x="175.4" y="580.1" width="2.20" height="2.1" fill="#309159"/>
<rect x="177.5" y="580.1" width="2.20" height="2.1" fill="#389a62"/>
<rect x="179.5" y="580.1" width="2.20" height="2.1" fill="#41a26b"/>
<rect x="181.6" y="580.1" width="2.20" height="2.1" fill="#4aab74"/>
<rect x="183.6" y="580.1" width="2.20" height="2.1" fill="#52b47c"/>
<rect x="185.7" y="580.1" width="2.20" height="2.1" fill="#5bbc85"/>
<rect x="187.7" y="580.1" width="2.20" height="2.1" fill="#64c58e"/>
<rect x="189.8" y="580.1" width="2.20" height="2.1" fill="#6dce97"/>
<rect x="191.8" y="580.1" width="2.20" height="2.1" fill="#75d79f"/>
<rect x="193.9" y="580.1" width="2.20" height="2.1" fill="#7edfa8"/>
<rect x="195.9" y="580.1" width="2.20" height="2.1" fill="#87e8b1"/>
<rect x="198.0" y="580.1" width="2.20" height="2.1" fill="#90f1ba"/>
<rect x="163.2" y="582.1" width="2.19" height="2.1" fill="#045426"/>
<rect x="165.3" y="582.1" width="2.19" height="2.1" fill="#0d5c2f"/>
<rect x="167.3" y="582.1" width="2.19" height="2.1" fill="#156538"/>
<rect x="169.3" y="582.1" width="2.19" height="2.1" fill="#1e6e40"/>
<rect x="171.4" y="582.1" width="2.19" height="2.1" fill="#277649"/>
<rect x="173.4" y="582.1" width="2.19" height="2.1" fill="#2f7f52"/>
<rect x="175.5" y="582.1" width="2.19" height="2.1" fill="#38885a"/>
<rect x="177.5" y="582.1" width="2.19" height="2.1" fill="#419063"/>
<rect x="179.5" y="582.1" width="2.19" height="2.1" fill="#49996c"/>
<rect x="181.6" y="582.1" width="2.19" height="2.1" fill="#52a274"/>
<rect x="183.6" y="582.1" width="2.19" height="2.1" fill="#5baa7d"/>
<rect x="185.7" y="582.1" width="2.19" height="2.1" fill="#63b386"/>
<rect x="187.7" y="582.1" width="2.19" height="2.1" fill="#6cbc8e"/>
<rect x="189.7" y="582.1" width="2.19" height="2.1" fill="#75c497"/>
<rect x="191.8" y="582.1" width="2.19" height="2.1" fill="#7dcda0"/>
<rect x="193.8" y="582.1" width="2.19" height="2.1" fill="#86d6a8"/>
<rect x="195.9" y="582.1" width="2.19" height="2.1" fill="#8fdeb1"/>
<rect x="197.9" y="582.1" width="2.19" height="2.1" fill="#97e7ba"/>
<rect x="199.9" y="582.1" width="2.19" height="2.1" fill="#a0f0c3"/>
<rect x="161.3" y="584.1" width="2.18" height="2.1" fill="#04421f"/>
<rect x="163.3" y="584.1" width="2.18" height="2.1" fill="#0c4b27"/>
<rect x="165.3" y="584.1" width="2.18" height="2.1" fill="#155330"/>
<rect x="167.4" y="584.1" width="2.18" height="2.1" fill="#1e5c39"/>
<rect x="169.4" y="584.1" width="2.18" height="2.1" fill="#266541"/>
<rect x="171.4" y="584.1" width="2.18" height="2.1" fill="#2f6d4a"/>
<rect x="173.5" y="584.1" width="2.18" height="2.1" fill="#387652"/>
<rect x="175.5" y="584.1" width="2.18" height="2.1" fill="#407f5b"/>
<rect x="177.5" y="584.1" width="2.18" height="2.1" fill="#498764"/>
<rect x="179.6" y="584.1" width="2.18" height="2.1" fill="#52906c"/>
<rect x="181.6" y="584.1" width="2.18" height="2.1" fill="#5a9875"/>
<rect x="183.6" y="584.1" width="2.18" height="2.1" fill="#63a17e"/>
<rect x="185.6" y="584.1" width="2.18" height="2.1" fill="#6caa86"/>
<rect x="187.7" y="584.1" width="2.18" height="2.1" fill="#74b28f"/>
<rect x="189.7" y="584.1" width="2.18" height="2.1" fill="#7dbb98"/>
<rect x="191.7" y="584.1" width="2.18" height="2.1" fill="#85c4a0"/>
<rect x="193.8" y="584.1" width="2.18" height="2.1" fill="#8ecca9"/>
<rect x="195.8" y="584.1" width="2.18" height="2.1" fill="#97d5b2"/>
<rect x="197.8" y="584.1" width="2.18" height="2.1" fill="#9fdeba"/>
<rect x="199.9" y="584.1" width="2.18" height="2.1" fill="#a8e6c3"/>
<rect x="201.9" y="584.1" width="2.18" height="2.1" fill="#b1efcb"/>
<rect x="159.3" y="586.1" width="2.17" height="2.1" fill="#043017"/>
<rect x="161.4" y="586.1" width="2.17" height="2.1" fill="#0c3920"/>
<rect x="163.4" y="586.1" width="2.17" height="2.1" fill="#154228"/>
<rect x="165.4" y="586.1" width="2.17" height="2.1" fill="#1e4a31"/>
<rect x="167.4" y="586.1" width="2.17" height="2.1" fill="#26533a"/>
<rect x="169.5" y="586.1" width="2.17" height="2.1" fill="#2f5c42"/>
<rect x="171.5" y="586.1" width="2.17" height="2.1" fill="#37644b"/>
<rect x="173.5" y="586.1" width="2.17" height="2.1" fill="#406d53"/>
<rect x="175.5" y="586.1" width="2.17" height="2.1" fill="#49755c"/>
<rect x="177.5" y="586.1" width="2.17" height="2.1" fill="#517e65"/>
<rect x="179.6" y="586.1" width="2.17" height="2.1" fill="#5a876d"/>
<rect x="181.6" y="586.1" width="2.17" height="2.1" fill="#628f76"/>
<rect x="183.6" y="586.1" width="2.17" height="2.1" fill="#6b987e"/>
<rect x="185.6" y="586.1" width="2.17" height="2.1" fill="#74a087"/>
<rect x="187.7" y="586.1" width="2.17" height="2.1" fill="#7ca990"/>
<rect x="189.7" y="586.1" width="2.17" height="2.1" fill="#85b298"/>
<rect x="191.7" y="586.1" width="2.17" height="2.1" fill="#8dbaa1"/>
<rect x="193.7" y="586.1" width="2.17" height="2.1" fill="#96c3a9"/>
<rect x="195.7" y="586.1" width="2.17" height="2.1" fill="#9fcbb2"/>
<rect x="197.8" y="586.1" width="2.17" height="2.1" fill="#a7d4bb"/>
<rect x="199.8" y="586.1" width="2.17" height="2.1" fill="#b0ddc3"/>
<rect x="201.8" y="586.1" width="2.17" height="2.1" fill="#b9e5cc"/>
<rect x="203.8" y="586.1" width="2.17" height="2.1" fill="#c1eed4"/>
<rect x="157.4" y="588.1" width="2.17" height="2.1" fill="#041f10"/>
<rect x="159.4" y="588.1" width="2.17" height="2.1" fill="#0c2818"/>
<rect x="161.4" y="588.1" width="2.17" height="2.1" fill="#153021"/>
<rect x="163.5" y="588.1" width="2.17" height="2.1" fill="#1e3929"/>
<rect x="165.5" y="588.1" width="2.17" height="2.1" fill="#264132"/>
<rect x="167.5" y="588.1" width="2.17" height="2.1" fill="#2f4a3a"/>
<rect x="169.5" y="588.1" width="2.17" height="2.1" fill="#375243"/>
<rect x="171.5" y="588.1" width="2.17" height="2.1" fill="#405b4c"/>
<rect x="173.5" y="588.1" width="2.17" height="2.1" fill="#486454"/>
<rect x="175.5" y="588.1" width="2.17" height="2.1" fill="#516c5d"/>
<rect x="177.6" y="588.1" width="2.17" height="2.1" fill="#5a7565"/>
<rect x="179.6" y="588.1" width="2.17" height="2.1" fill="#627d6e"/>
<rect x="181.6" y="588.1" width="2.17" height="2.1" fill="#6b8676"/>
<rect x="183.6" y="588.1" width="2.17" height="2.1" fill="#738e7f"/>
<rect x="185.6" y="588.1" width="2.17" height="2.1" fill="#7c9788"/>
<rect x="187.6" y="588.1" width="2.17" height="2.1" fill="#84a090"/>
<rect x="189.7" y="588.1" width="2.17" height="2.1" fill="#8da899"/>
<rect x="191.7" y="588.1" width="2.17" height="2.1" fill="#96b1a1"/>
<rect x="193.7" y="588.1" width="2.17" height="2.1" fill="#9eb9aa"/>
<rect x="195.7" y="588.1" width="2.17" height="2.1" fill="#a7c2b2"/>
<rect x="197.7" y="588.1" width="2.17" height="2.1" fill="#afcbbb"/>
<rect x="199.7" y="588.1" width="2.17" height="2.1" fill="#b8d3c4"/>
<rect x="201.7" y="588.1" width="2.17" height="2.1" fill="#c0dccc"/>
<rect x="203.8" y="588.1" width="2.17" height="2.1" fill="#c9e4d5"/>
<rect x="205.8" y="588.1" width="2.17" height="2.1" fill="#d2eddd"/>
<rect x="155.5" y="590.1" width="2.16" height="2.1" fill="#040d08"/>
<rect x="157.5" y="590.1" width="2.16" height="2.1" fill="#0c1610"/>
<rect x="159.5" y="590.1" width="2.16" height="2.1" fill="#151f19"/>
<rect x="161.5" y="590.1" width="2.16" height="2.1" fill="#1d2722"/>
<rect x="163.5" y="590.1" width="2.16" height="2.1" fill="#26302a"/>
<rect x="165.5" y="590.1" width="2.16" height="2.1" fill="#2f3833"/>
<rect x="167.5" y="590.1" width="2.16" height="2.1" fill="#37413b"/>
<rect x="169.5" y="590.1" width="2.16" height="2.1" fill="#404944"/>
<rect x="171.5" y="590.1" width="2.16" height="2.1" fill="#48524c"/>
<rect x="173.6" y="590.1" width="2.16" height="2.1" fill="#515a55"/>
<rect x="175.6" y="590.1" width="2.16" height="2.1" fill="#59635d"/>
<rect x="177.6" y="590.1" width="2.16" height="2.1" fill="#626b66"/>
<rect x="179.6" y="590.1" width="2.16" height="2.1" fill="#6a746f"/>
<rect x="181.6" y="590.1" width="2.16" height="2.1" fill="#737d77"/>
<rect x="183.6" y="590.1" width="2.16" height="2.1" fill="#7c8580"/>
<rect x="185.6" y="590.1" width="2.16" height="2.1" fill="#848e88"/>
<rect x="187.6" y="590.1" width="2.16" height="2.1" fill="#8d9691"/>
<rect x="189.6" y="590.1" width="2.16" height="2.1" fill="#959f99"/>
<rect x="191.6" y="590.1" width="2.16" height="2.1" fill="#9ea7a2"/>
<rect x="193.7" y="590.1" width="2.16" height="2.1" fill="#a6b0aa"/>
<rect x="195.7" y="590.1" width="2.16" height="2.1" fill="#afb8b3"/>
<rect x="197.7" y="590.1" width="2.16" height="2.1" fill="#b7c1bc"/>
<rect x="199.7" y="590.1" width="2.16" height="2.1" fill="#c0cac4"/>
<rect x="201.7" y="590.1" width="2.16" height="2.1" fill="#c8d2cd"/>
<rect x="203.7" y="590.1" width="2.16" height="2.1" fill="#d1dbd5"/>
<rect x="205.7" y="590.1" width="2.16" height="2.1" fill="#dae3de"/>
<rect x="207.7" y="590.1" width="2.16" height="2.1" fill="#e2ece6"/>
<rect x="153" y="592.5" width="58" height="2" fill="#f0f0f0"/>
<rect x="153" y="595" width="14" height="7" fill="#c8c8c8"/>
<rect x="170" y="595.6" width="4" height="0.8" fill="#888"/><rect x="178" y="595.2" width="14" height="1.6" fill="#f8f0f0"/>
<rect x="170" y="598.1" width="4" height="0.8" fill="#888"/><rect x="178" y="597.7" width="14" height="1.6" fill="#f8f0f0"/>
<rect x="170" y="600.6" width="4" height="0.8" fill="#888"/><rect x="178" y="600.2" width="14" height="1.6" fill="#f8f0f0"/>
<rect x="197" y="595" width="13" height="2.5" fill="#f0f0f0" stroke="#aaa" stroke-width="0.3"/><rect x="197" y="599" width="6" height="2.5" fill="#f0f0f0" stroke="#aaa" stroke-width="0.3"/><rect x="204" y="599" width="6" height="2.5" fill="#f0f0f0" stroke="#aaa" stroke-width="0.3"/>
<rect x="122.8" y="548.5" width="55.7" height="14.0" fill="#ffffff" opacity="0.45"/>
<text transform="translate(124.85000000000001,560.3199999999999) scale(0.997,1)" font-size="10.5" font-weight="bold" fill="#a8b4d8">配色マップ</text>
<text transform="translate(123.95,559.42) scale(0.997,1)" font-size="10.5" font-weight="bold" fill="#6e3200" stroke="#6e3200" stroke-width="0.1">配色マップ</text>
<rect x="199.9" y="527.5" width="58.4" height="58.7" fill="#74ad74" stroke="#5a7e5a" stroke-width="1"/>
<rect x="200.4" y="528" width="57.4" height="3" fill="url(#tbar)"/>
<rect x="200.9" y="531" width="56.4" height="54.2" fill="#fff"/>
<circle cx="202.20000000000002" cy="529.50" r="0.9" fill="#4a6ae0"/>
<rect x="203.9" y="529.00" width="12.0" height="1" fill="#5a6a5a" opacity="0.55"/>
<rect x="251.5" y="528.1" width="5.5" height="2.6" fill="#d0604a" rx="0.6"/>
<rect x="201" y="531" width="56" height="4.5" fill="#ecebf6"/>
<rect x="202.0" y="533" width="1.4" height="0.7" fill="#b070a0"/>
<rect x="205.2" y="533" width="2.1" height="0.7" fill="#b070a0"/>
<rect x="208.4" y="533" width="2.8" height="0.7" fill="#b070a0"/>
<rect x="211.6" y="533" width="1.4" height="0.7" fill="#b070a0"/>
<rect x="214.8" y="533" width="2.1" height="0.7" fill="#b070a0"/>
<rect x="218.0" y="533" width="1.4" height="0.7" fill="#b070a0"/>
<rect x="221.2" y="533" width="2.8" height="0.7" fill="#b070a0"/>
<rect x="224.4" y="533" width="2.1" height="0.7" fill="#b070a0"/>
<rect x="227.6" y="533" width="3.5" height="0.7" fill="#b070a0"/>
<rect x="230.8" y="533" width="2.1" height="0.7" fill="#b070a0"/>
<rect x="234.0" y="533" width="2.8" height="0.7" fill="#b070a0"/>
<rect x="237.2" y="533" width="1.4" height="0.7" fill="#b070a0"/>
<rect x="240.4" y="533" width="2.1" height="0.7" fill="#b070a0"/>
<rect x="201" y="536.2" width="56" height="3" fill="#ffffff" stroke="#ddd" stroke-width="0.3"/>
<rect x="203.0" y="537.4" width="2.1" height="0.6" fill="#999"/>
<rect x="206.4" y="537.4" width="1.4" height="0.6" fill="#999"/>
<rect x="209.8" y="537.4" width="2.8" height="0.6" fill="#999"/>
<rect x="213.2" y="537.4" width="1.4" height="0.6" fill="#999"/>
<rect x="216.6" y="537.4" width="2.1" height="0.6" fill="#999"/>
<rect x="220.0" y="537.4" width="2.8" height="0.6" fill="#999"/>
<rect x="223.4" y="537.4" width="1.4" height="0.6" fill="#999"/>
<rect x="226.8" y="537.4" width="2.1" height="0.6" fill="#999"/>
<rect x="230.2" y="537.4" width="1.4" height="0.6" fill="#999"/>
<rect x="202" y="541" width="40" height="37" fill="#ffffff" stroke="#b8b8b8" stroke-width="0.4"/>
<rect x="202.3" y="542.2" width="39.5" height="1.5" fill="#3a8ef0"/>
<rect x="203" y="545.0" width="8" height="0.7" fill="#aaa"/><rect x="236" y="545.0" width="3" height="0.7" fill="#bbb"/>
<rect x="203" y="547.4" width="13" height="0.7" fill="#aaa"/><rect x="236" y="547.4" width="3" height="0.7" fill="#bbb"/>
<rect x="203" y="549.8" width="9" height="0.7" fill="#aaa"/><rect x="236" y="549.8" width="3" height="0.7" fill="#bbb"/>
<rect x="203" y="552.2" width="14" height="0.7" fill="#aaa"/><rect x="236" y="552.2" width="3" height="0.7" fill="#bbb"/>
<rect x="203" y="554.6" width="10" height="0.7" fill="#aaa"/><rect x="236" y="554.6" width="3" height="0.7" fill="#bbb"/>
<rect x="203" y="557.0" width="15" height="0.7" fill="#aaa"/><rect x="236" y="557.0" width="3" height="0.7" fill="#bbb"/>
<rect x="203" y="559.4" width="11" height="0.7" fill="#aaa"/><rect x="236" y="559.4" width="3" height="0.7" fill="#bbb"/>
<rect x="203" y="561.8" width="16" height="0.7" fill="#aaa"/><rect x="236" y="561.8" width="3" height="0.7" fill="#bbb"/>
<rect x="203" y="564.2" width="12" height="0.7" fill="#aaa"/><rect x="236" y="564.2" width="3" height="0.7" fill="#bbb"/>
<rect x="203" y="566.6" width="8" height="0.7" fill="#aaa"/><rect x="236" y="566.6" width="3" height="0.7" fill="#bbb"/>
<rect x="203" y="569.0" width="13" height="0.7" fill="#aaa"/><rect x="236" y="569.0" width="3" height="0.7" fill="#bbb"/>
<rect x="203" y="571.4" width="9" height="0.7" fill="#aaa"/><rect x="236" y="571.4" width="3" height="0.7" fill="#bbb"/>
<rect x="203" y="573.8" width="14" height="0.7" fill="#aaa"/><rect x="236" y="573.8" width="3" height="0.7" fill="#bbb"/>
<rect x="203" y="576.2" width="10" height="0.7" fill="#aaa"/><rect x="236" y="576.2" width="3" height="0.7" fill="#bbb"/>
<rect x="244" y="542" width="11" height="13" fill="none" stroke="#ccc" stroke-width="0.4"/><rect x="244" y="557" width="11" height="17" fill="none" stroke="#ccc" stroke-width="0.4"/>
<rect x="246" y="545" width="6" height="0.7" fill="#aaa"/>
<rect x="246" y="548" width="6" height="0.7" fill="#aaa"/>
<rect x="246" y="560" width="6" height="0.7" fill="#aaa"/>
<rect x="246" y="563" width="6" height="0.7" fill="#aaa"/>
<rect x="246" y="566" width="6" height="0.7" fill="#aaa"/>
<rect x="246" y="569" width="6" height="0.7" fill="#aaa"/>
<rect x="201" y="580" width="56" height="5" fill="#efefef"/><rect x="218" y="581.5" width="22" height="1" fill="#999"/><rect x="246" y="581" width="9" height="3" fill="#f8f8f8" stroke="#999" stroke-width="0.3"/>
<rect x="206.2" y="567.7" width="73.5" height="14.3" fill="#ffffff" opacity="0.45"/>
<text transform="translate(207.76000000000002,579.77) scale(0.927,1)" font-size="10.84" font-weight="bold" fill="#a8b4d8">フォントの確認</text>
<text transform="translate(206.86,578.87) scale(0.927,1)" font-size="10.84" font-weight="bold" fill="#6e3200" stroke="#6e3200" stroke-width="0.1">フォントの確認</text>
<rect x="299.5" y="526.5" width="53" height="64" fill="#74ad74" stroke="#5a7e5a" stroke-width="1"/>
<rect x="300" y="527" width="52" height="3" fill="url(#tbar)"/>
<rect x="300.5" y="530" width="51" height="59.5" fill="#fff"/>
<circle cx="301.8" cy="528.50" r="0.9" fill="#4a6ae0"/>
<rect x="303.5" y="528.00" width="12.0" height="1" fill="#5a6a5a" opacity="0.55"/>
<rect x="345.7" y="527.1" width="5.5" height="2.6" fill="#d0604a" rx="0.6"/>
<rect x="300.5" y="529.5" width="51" height="60" fill="#f4f4f4"/>
<rect x="302" y="531.4" width="14.5" height="2.8" fill="#fafafa" stroke="#aaa" stroke-width="0.45"/>
<rect x="318" y="531.4" width="14.7" height="2.8" fill="#fafafa" stroke="#aaa" stroke-width="0.45"/>
<rect x="335.4" y="531.4" width="15" height="2.8" fill="#fafafa" stroke="#444" stroke-width="0.45"/>
<rect x="318" y="537.2" width="16" height="0.5" fill="#ccc"/>
<rect x="301.2" y="550.5" width="49.5" height="10" fill="none" stroke="#d0d0d0" stroke-width="0.4"/>
<rect x="301.2" y="562" width="49.5" height="26.5" fill="none" stroke="#d0d0d0" stroke-width="0.4"/>
<rect x="311.5" y="551" width="0.4" height="36.5" fill="#d0d0d0"/>
<rect x="314" y="562.2" width="7" height="0.6" fill="#999"/>
<rect x="302" y="551.0" width="1.2" height="1.2" fill="none" stroke="#999" stroke-width="0.3"/><rect x="304" y="551.4" width="5.5" height="0.6" fill="#999"/>
<rect x="314" y="551.4" width="5" height="0.6" fill="#999"/><rect x="322" y="551.6" width="27" height="0.4" fill="#b8b8b8"/>
<rect x="331" y="550.5" width="1" height="2" fill="#888"/>
<rect x="302" y="553.8000000000001" width="1.2" height="1.2" fill="none" stroke="#999" stroke-width="0.3"/><rect x="304" y="554.2" width="5.5" height="0.6" fill="#999"/>
<rect x="314" y="554.2" width="5" height="0.6" fill="#999"/><rect x="322" y="554.4000000000001" width="27" height="0.4" fill="#b8b8b8"/>
<rect x="323" y="553.3000000000001" width="1" height="2" fill="#888"/>
<rect x="302" y="557.2" width="1.2" height="1.2" fill="none" stroke="#999" stroke-width="0.3"/><rect x="304" y="557.6" width="5.5" height="0.6" fill="#999"/>
<rect x="314" y="557.6" width="5" height="0.6" fill="#999"/><rect x="322" y="557.8000000000001" width="27" height="0.4" fill="#b8b8b8"/>
<rect x="323" y="556.7" width="1" height="2" fill="#888"/>
<rect x="302.5" y="559.8" width="6" height="0.6" fill="#aaa"/>
<rect x="302" y="565.5" width="1.2" height="1.2" fill="none" stroke="#999" stroke-width="0.3"/><rect x="304" y="565.9" width="5.5" height="0.6" fill="#999"/>
<rect x="314" y="565.9" width="5" height="0.6" fill="#999"/><rect x="322" y="566.1" width="27" height="0.4" fill="#b8b8b8"/>
<rect x="302" y="568.3000000000001" width="1.2" height="1.2" fill="none" stroke="#999" stroke-width="0.3"/><rect x="304" y="568.7" width="5.5" height="0.6" fill="#999"/>
<rect x="314" y="568.7" width="5" height="0.6" fill="#999"/><rect x="322" y="568.9000000000001" width="27" height="0.4" fill="#b8b8b8"/>
<rect x="323" y="567.8000000000001" width="1" height="2" fill="#888"/>
<rect x="302" y="571.6" width="1.2" height="1.2" fill="none" stroke="#999" stroke-width="0.3"/><rect x="304" y="572" width="5.5" height="0.6" fill="#999"/>
<rect x="314" y="572" width="5" height="0.6" fill="#999"/><rect x="322" y="572.2" width="27" height="0.4" fill="#b8b8b8"/>
<rect x="335" y="571.1" width="1" height="2" fill="#888"/>
<rect x="302" y="574.9" width="1.2" height="1.2" fill="none" stroke="#999" stroke-width="0.3"/><rect x="304" y="575.3" width="5.5" height="0.6" fill="#999"/>
<rect x="314" y="575.3" width="5" height="0.6" fill="#999"/><rect x="322" y="575.5" width="27" height="0.4" fill="#b8b8b8"/>
<rect x="324" y="574.4" width="1" height="2" fill="#888"/>
<rect x="302" y="577.7" width="1.2" height="1.2" fill="none" stroke="#999" stroke-width="0.3"/><rect x="304" y="578.1" width="5.5" height="0.6" fill="#999"/>
<rect x="314" y="578.1" width="5" height="0.6" fill="#999"/><rect x="322" y="578.3000000000001" width="27" height="0.4" fill="#b8b8b8"/>
<rect x="340" y="577.2" width="1" height="2" fill="#888"/>
<rect x="302" y="580.5" width="1.2" height="1.2" fill="none" stroke="#999" stroke-width="0.3"/><rect x="304" y="580.9" width="5.5" height="0.6" fill="#999"/>
<rect x="314" y="580.9" width="5" height="0.6" fill="#999"/><rect x="322" y="581.1" width="27" height="0.4" fill="#b8b8b8"/>
<rect x="323" y="580.0" width="1" height="2" fill="#888"/>
<rect x="302" y="583.3000000000001" width="1.2" height="1.2" fill="none" stroke="#999" stroke-width="0.3"/><rect x="304" y="583.7" width="5.5" height="0.6" fill="#999"/>
<rect x="314" y="583.7" width="5" height="0.6" fill="#999"/><rect x="322" y="583.9000000000001" width="27" height="0.4" fill="#b8b8b8"/>
<rect x="325" y="582.8000000000001" width="1" height="2" fill="#888"/>
<rect x="302" y="585.5" width="1.2" height="1.2" fill="none" stroke="#999" stroke-width="0.3"/><rect x="304" y="585.9" width="5.5" height="0.6" fill="#999"/>
<rect x="314" y="585.9" width="5" height="0.6" fill="#999"/><rect x="322" y="586.1" width="27" height="0.4" fill="#b8b8b8"/>
<rect x="323" y="585.0" width="1" height="2" fill="#888"/>
<rect x="277.7" y="537.2" width="86.5" height="14.4" fill="#ffffff" opacity="0.45"/>
<text transform="translate(280.09999999999997,549.24) scale(1.134,1)" font-size="10.55" font-weight="bold" fill="#a8b4d8">演奏会場の設定</text>
<text transform="translate(279.2,548.34) scale(1.134,1)" font-size="10.55" font-weight="bold" fill="#6e3200" stroke="#6e3200" stroke-width="0.1">演奏会場の設定</text>
<rect x="407.0" y="553.5" width="73" height="42.6" fill="#74ad74" stroke="#5a7e5a" stroke-width="1"/>
<rect x="407.5" y="554" width="72" height="3" fill="url(#tbar)"/>
<rect x="408.0" y="557" width="71" height="38.1" fill="#fff"/>
<circle cx="409.3" cy="555.50" r="0.9" fill="#4a6ae0"/>
<rect x="411.0" y="555.00" width="12.0" height="1" fill="#5a6a5a" opacity="0.55"/>
<rect x="473.2" y="554.1" width="5.5" height="2.6" fill="#d0604a" rx="0.6"/>
<rect x="408" y="556.5" width="71" height="38.5" fill="#dedede"/>
<rect x="408" y="559.6" width="71" height="0.5" fill="#f4f4f4"/>
<rect x="409.5" y="558.0" width="4" height="0.7" fill="#7a7a7a"/>
<rect x="421.1" y="558.0" width="6" height="0.7" fill="#7a7a7a"/>
<rect x="432.7" y="558.0" width="8" height="0.7" fill="#7a7a7a"/>
<rect x="444.3" y="558.0" width="5" height="0.7" fill="#7a7a7a"/>
<rect x="455.9" y="558.0" width="7" height="0.7" fill="#7a7a7a"/>
<rect x="467.5" y="558.0" width="4" height="0.7" fill="#7a7a7a"/>
<rect x="408" y="563.2" width="71" height="0.5" fill="#f4f4f4"/>
<rect x="409.5" y="561.6" width="7" height="0.7" fill="#7a7a7a"/>
<rect x="421.1" y="561.6" width="4" height="0.7" fill="#7a7a7a"/>
<rect x="432.7" y="561.6" width="6" height="0.7" fill="#7a7a7a"/>
<rect x="444.3" y="561.6" width="8" height="0.7" fill="#7a7a7a"/>
<rect x="455.9" y="561.6" width="5" height="0.7" fill="#7a7a7a"/>
<rect x="467.5" y="561.6" width="7" height="0.7" fill="#7a7a7a"/>
<rect x="408" y="566.8000000000001" width="71" height="0.5" fill="#f4f4f4"/>
<rect x="409.5" y="565.2" width="5" height="0.7" fill="#7a7a7a"/>
<rect x="421.1" y="565.2" width="7" height="0.7" fill="#7a7a7a"/>
<rect x="432.7" y="565.2" width="4" height="0.7" fill="#7a7a7a"/>
<rect x="444.3" y="565.2" width="6" height="0.7" fill="#7a7a7a"/>
<rect x="455.9" y="565.2" width="8" height="0.7" fill="#7a7a7a"/>
<rect x="467.5" y="565.2" width="5" height="0.7" fill="#7a7a7a"/>
<rect x="408" y="570.4" width="71" height="0.5" fill="#f4f4f4"/>
<rect x="409.5" y="568.8" width="8" height="0.7" fill="#7a7a7a"/>
<rect x="421.1" y="568.8" width="5" height="0.7" fill="#7a7a7a"/>
<rect x="432.7" y="568.8" width="7" height="0.7" fill="#7a7a7a"/>
<rect x="444.3" y="568.8" width="4" height="0.7" fill="#7a7a7a"/>
<rect x="455.9" y="568.8" width="6" height="0.7" fill="#7a7a7a"/>
<rect x="467.5" y="568.8" width="8" height="0.7" fill="#7a7a7a"/>
<rect x="408" y="574.0" width="71" height="0.5" fill="#f4f4f4"/>
<rect x="409.5" y="572.4" width="6" height="0.7" fill="#7a7a7a"/>
<rect x="421.1" y="572.4" width="8" height="0.7" fill="#7a7a7a"/>
<rect x="432.7" y="572.4" width="5" height="0.7" fill="#7a7a7a"/>
<rect x="444.3" y="572.4" width="7" height="0.7" fill="#7a7a7a"/>
<rect x="455.9" y="572.4" width="4" height="0.7" fill="#7a7a7a"/>
<rect x="467.5" y="572.4" width="6" height="0.7" fill="#7a7a7a"/>
<rect x="408" y="577.6" width="71" height="0.5" fill="#f4f4f4"/>
<rect x="409.5" y="576.0" width="4" height="0.7" fill="#7a7a7a"/>
<rect x="421.1" y="576.0" width="6" height="0.7" fill="#7a7a7a"/>
<rect x="432.7" y="576.0" width="8" height="0.7" fill="#7a7a7a"/>
<rect x="444.3" y="576.0" width="5" height="0.7" fill="#7a7a7a"/>
<rect x="455.9" y="576.0" width="7" height="0.7" fill="#7a7a7a"/>
<rect x="467.5" y="576.0" width="4" height="0.7" fill="#7a7a7a"/>
<rect x="408" y="581.2" width="71" height="0.5" fill="#f4f4f4"/>
<rect x="409.5" y="579.6" width="7" height="0.7" fill="#7a7a7a"/>
<rect x="421.1" y="579.6" width="4" height="0.7" fill="#7a7a7a"/>
<rect x="432.7" y="579.6" width="6" height="0.7" fill="#7a7a7a"/>
<rect x="444.3" y="579.6" width="8" height="0.7" fill="#7a7a7a"/>
<rect x="455.9" y="579.6" width="5" height="0.7" fill="#7a7a7a"/>
<rect x="467.5" y="579.6" width="7" height="0.7" fill="#7a7a7a"/>
<rect x="408" y="584.8000000000001" width="71" height="0.5" fill="#f4f4f4"/>
<rect x="409.5" y="583.2" width="5" height="0.7" fill="#7a7a7a"/>
<rect x="421.1" y="583.2" width="7" height="0.7" fill="#7a7a7a"/>
<rect x="432.7" y="583.2" width="4" height="0.7" fill="#7a7a7a"/>
<rect x="444.3" y="583.2" width="6" height="0.7" fill="#7a7a7a"/>
<rect x="455.9" y="583.2" width="8" height="0.7" fill="#7a7a7a"/>
<rect x="467.5" y="583.2" width="5" height="0.7" fill="#7a7a7a"/>
<rect x="409" y="590.5" width="4.2" height="3.2" fill="#f6f6f6" stroke="#aaa" stroke-width="0.3"/>
<rect x="414" y="590.5" width="4.2" height="3.2" fill="#f6f6f6" stroke="#aaa" stroke-width="0.3"/>
<rect x="419" y="590.5" width="4.2" height="3.2" fill="#f6f6f6" stroke="#aaa" stroke-width="0.3"/>
<rect x="424" y="590.5" width="4.2" height="3.2" fill="#f6f6f6" stroke="#aaa" stroke-width="0.3"/>
<rect x="429" y="590.5" width="4.2" height="3.2" fill="#f6f6f6" stroke="#aaa" stroke-width="0.3"/>
<rect x="434" y="590.5" width="4.2" height="3.2" fill="#f6f6f6" stroke="#aaa" stroke-width="0.3"/>
<rect x="439" y="590.5" width="4.2" height="3.2" fill="#f6f6f6" stroke="#aaa" stroke-width="0.3"/>
<rect x="444" y="590.5" width="4.2" height="3.2" fill="#f6f6f6" stroke="#aaa" stroke-width="0.3"/>
<rect x="449" y="590.5" width="4.2" height="3.2" fill="#f6f6f6" stroke="#aaa" stroke-width="0.3"/>
<rect x="454" y="590.5" width="4.2" height="3.2" fill="#f6f6f6" stroke="#aaa" stroke-width="0.3"/>
<rect x="459" y="590.5" width="4.2" height="3.2" fill="#f6f6f6" stroke="#aaa" stroke-width="0.3"/>
<rect x="464" y="590.5" width="4.2" height="3.2" fill="#f6f6f6" stroke="#aaa" stroke-width="0.3"/>
<rect x="469" y="590.5" width="4.2" height="3.2" fill="#f6f6f6" stroke="#aaa" stroke-width="0.3"/>
<rect x="474" y="590.5" width="4.2" height="3.2" fill="#f6f6f6" stroke="#aaa" stroke-width="0.3"/>
<rect x="406.3" y="574.7" width="66.6" height="13.7" fill="#ffffff" opacity="0.45"/>
<text transform="translate(404.81,586.26) scale(1.086,1)" font-size="10.24" font-weight="bold" fill="#a8b4d8">ドラムの試聴</text>
<text transform="translate(403.91,585.36) scale(1.086,1)" font-size="10.24" font-weight="bold" fill="#6e3200" stroke="#6e3200" stroke-width="0.1">ドラムの試聴</text>
<rect x="386.5" y="528.5" width="71" height="43.6" fill="#74ad74" stroke="#5a7e5a" stroke-width="1"/>
<rect x="387" y="529" width="70" height="3" fill="url(#tbar)"/>
<rect x="387.5" y="532" width="69" height="39.1" fill="#fff"/>
<circle cx="388.8" cy="530.50" r="0.9" fill="#4a6ae0"/>
<rect x="390.5" y="530.00" width="12.0" height="1" fill="#5a6a5a" opacity="0.55"/>
<rect x="450.7" y="529.1" width="5.5" height="2.6" fill="#d0604a" rx="0.6"/>
<rect x="387.5" y="531.5" width="69" height="39.5" fill="#e0e0e0"/>
<rect x="398.9" y="531.5" width="0.5" height="39" fill="#f8f8f8"/>
<rect x="410.3" y="531.5" width="0.5" height="39" fill="#f8f8f8"/>
<rect x="421.7" y="531.5" width="0.5" height="39" fill="#f8f8f8"/>
<rect x="433.1" y="531.5" width="0.5" height="39" fill="#f8f8f8"/>
<rect x="444.5" y="531.5" width="0.5" height="39" fill="#f8f8f8"/>
<rect x="387.5" y="534.1" width="69" height="0.5" fill="#f2f2f2"/>
<rect x="389.0" y="532.6" width="3" height="0.7" fill="#6e6e6e"/>
<rect x="394.5" y="532.6" width="2.5" height="0.7" fill="#9a9a9a"/>
<rect x="400.4" y="532.6" width="6" height="0.7" fill="#6e6e6e"/>
<rect x="411.8" y="532.6" width="3" height="0.7" fill="#6e6e6e"/>
<rect x="417.3" y="532.6" width="2.5" height="0.7" fill="#9a9a9a"/>
<rect x="423.2" y="532.6" width="6" height="0.7" fill="#6e6e6e"/>
<rect x="434.6" y="532.6" width="3" height="0.7" fill="#6e6e6e"/>
<rect x="440.1" y="532.6" width="2.5" height="0.7" fill="#9a9a9a"/>
<rect x="446.0" y="532.6" width="6" height="0.7" fill="#6e6e6e"/>
<rect x="387.5" y="537.6" width="69" height="0.5" fill="#f2f2f2"/>
<rect x="389.0" y="536.1" width="4" height="0.7" fill="#6e6e6e"/>
<rect x="400.4" y="536.1" width="7" height="0.7" fill="#6e6e6e"/>
<rect x="405.9" y="536.1" width="2.5" height="0.7" fill="#9a9a9a"/>
<rect x="411.8" y="536.1" width="4" height="0.7" fill="#6e6e6e"/>
<rect x="423.2" y="536.1" width="7" height="0.7" fill="#6e6e6e"/>
<rect x="428.7" y="536.1" width="2.5" height="0.7" fill="#9a9a9a"/>
<rect x="434.6" y="536.1" width="4" height="0.7" fill="#6e6e6e"/>
<rect x="446.0" y="536.1" width="7" height="0.7" fill="#6e6e6e"/>
<rect x="451.5" y="536.1" width="2.5" height="0.7" fill="#9a9a9a"/>
<rect x="387.5" y="541.1" width="69" height="0.5" fill="#f2f2f2"/>
<rect x="389.0" y="539.6" width="5" height="0.7" fill="#6e6e6e"/>
<rect x="394.5" y="539.6" width="2.5" height="0.7" fill="#9a9a9a"/>
<rect x="400.4" y="539.6" width="8" height="0.7" fill="#6e6e6e"/>
<rect x="411.8" y="539.6" width="5" height="0.7" fill="#6e6e6e"/>
<rect x="417.3" y="539.6" width="2.5" height="0.7" fill="#9a9a9a"/>
<rect x="423.2" y="539.6" width="8" height="0.7" fill="#6e6e6e"/>
<rect x="434.6" y="539.6" width="5" height="0.7" fill="#6e6e6e"/>
<rect x="440.1" y="539.6" width="2.5" height="0.7" fill="#9a9a9a"/>
<rect x="446.0" y="539.6" width="8" height="0.7" fill="#6e6e6e"/>
<rect x="387.5" y="544.6" width="69" height="0.5" fill="#f2f2f2"/>
<rect x="389.0" y="543.1" width="6" height="0.7" fill="#6e6e6e"/>
<rect x="400.4" y="543.1" width="3" height="0.7" fill="#6e6e6e"/>
<rect x="405.9" y="543.1" width="2.5" height="0.7" fill="#9a9a9a"/>
<rect x="411.8" y="543.1" width="6" height="0.7" fill="#6e6e6e"/>
<rect x="423.2" y="543.1" width="3" height="0.7" fill="#6e6e6e"/>
<rect x="428.7" y="543.1" width="2.5" height="0.7" fill="#9a9a9a"/>
<rect x="434.6" y="543.1" width="6" height="0.7" fill="#6e6e6e"/>
<rect x="446.0" y="543.1" width="3" height="0.7" fill="#6e6e6e"/>
<rect x="451.5" y="543.1" width="2.5" height="0.7" fill="#9a9a9a"/>
<rect x="387.5" y="548.1" width="69" height="0.5" fill="#f2f2f2"/>
<rect x="389.0" y="546.6" width="7" height="0.7" fill="#6e6e6e"/>
<rect x="394.5" y="546.6" width="2.5" height="0.7" fill="#9a9a9a"/>
<rect x="400.4" y="546.6" width="4" height="0.7" fill="#6e6e6e"/>
<rect x="411.8" y="546.6" width="7" height="0.7" fill="#6e6e6e"/>
<rect x="417.3" y="546.6" width="2.5" height="0.7" fill="#9a9a9a"/>
<rect x="423.2" y="546.6" width="4" height="0.7" fill="#6e6e6e"/>
<rect x="434.6" y="546.6" width="7" height="0.7" fill="#6e6e6e"/>
<rect x="440.1" y="546.6" width="2.5" height="0.7" fill="#9a9a9a"/>
<rect x="446.0" y="546.6" width="4" height="0.7" fill="#6e6e6e"/>
<rect x="387.5" y="551.6" width="69" height="0.5" fill="#f2f2f2"/>
<rect x="389.0" y="550.1" width="8" height="0.7" fill="#6e6e6e"/>
<rect x="400.4" y="550.1" width="5" height="0.7" fill="#6e6e6e"/>
<rect x="405.9" y="550.1" width="2.5" height="0.7" fill="#9a9a9a"/>
<rect x="411.8" y="550.1" width="8" height="0.7" fill="#6e6e6e"/>
<rect x="423.2" y="550.1" width="5" height="0.7" fill="#6e6e6e"/>
<rect x="428.7" y="550.1" width="2.5" height="0.7" fill="#9a9a9a"/>
<rect x="434.6" y="550.1" width="8" height="0.7" fill="#6e6e6e"/>
<rect x="446.0" y="550.1" width="5" height="0.7" fill="#6e6e6e"/>
<rect x="451.5" y="550.1" width="2.5" height="0.7" fill="#9a9a9a"/>
<rect x="387.5" y="555.1" width="69" height="0.5" fill="#f2f2f2"/>
<rect x="389.0" y="553.6" width="3" height="0.7" fill="#6e6e6e"/>
<rect x="394.5" y="553.6" width="2.5" height="0.7" fill="#9a9a9a"/>
<rect x="400.4" y="553.6" width="6" height="0.7" fill="#6e6e6e"/>
<rect x="411.8" y="553.6" width="3" height="0.7" fill="#6e6e6e"/>
<rect x="417.3" y="553.6" width="2.5" height="0.7" fill="#9a9a9a"/>
<rect x="423.2" y="553.6" width="6" height="0.7" fill="#6e6e6e"/>
<rect x="387.5" y="558.6" width="69" height="0.5" fill="#f2f2f2"/>
<rect x="389.0" y="557.1" width="4" height="0.7" fill="#6e6e6e"/>
<rect x="400.4" y="557.1" width="7" height="0.7" fill="#6e6e6e"/>
<rect x="405.9" y="557.1" width="2.5" height="0.7" fill="#9a9a9a"/>
<rect x="411.8" y="557.1" width="4" height="0.7" fill="#6e6e6e"/>
<rect x="423.2" y="557.1" width="7" height="0.7" fill="#6e6e6e"/>
<rect x="428.7" y="557.1" width="2.5" height="0.7" fill="#9a9a9a"/>
<rect x="387.5" y="562.1" width="69" height="0.5" fill="#f2f2f2"/>
<rect x="389.0" y="560.6" width="5" height="0.7" fill="#6e6e6e"/>
<rect x="394.5" y="560.6" width="2.5" height="0.7" fill="#9a9a9a"/>
<rect x="400.4" y="560.6" width="8" height="0.7" fill="#6e6e6e"/>
<rect x="411.8" y="560.6" width="5" height="0.7" fill="#6e6e6e"/>
<rect x="417.3" y="560.6" width="2.5" height="0.7" fill="#9a9a9a"/>
<rect x="423.2" y="560.6" width="8" height="0.7" fill="#6e6e6e"/>
<rect x="387.5" y="565.6" width="69" height="0.5" fill="#f2f2f2"/>
<rect x="389.0" y="564.1" width="6" height="0.7" fill="#6e6e6e"/>
<rect x="400.4" y="564.1" width="3" height="0.7" fill="#6e6e6e"/>
<rect x="405.9" y="564.1" width="2.5" height="0.7" fill="#9a9a9a"/>
<rect x="411.8" y="564.1" width="6" height="0.7" fill="#6e6e6e"/>
<rect x="423.2" y="564.1" width="3" height="0.7" fill="#6e6e6e"/>
<rect x="428.7" y="564.1" width="2.5" height="0.7" fill="#9a9a9a"/>
<rect x="387.5" y="569.1" width="69" height="0.5" fill="#f2f2f2"/>
<rect x="389.0" y="567.6" width="7" height="0.7" fill="#6e6e6e"/>
<rect x="394.5" y="567.6" width="2.5" height="0.7" fill="#9a9a9a"/>
<rect x="400.4" y="567.6" width="4" height="0.7" fill="#6e6e6e"/>
<rect x="411.8" y="567.6" width="7" height="0.7" fill="#6e6e6e"/>
<rect x="417.3" y="567.6" width="2.5" height="0.7" fill="#9a9a9a"/>
<rect x="423.2" y="567.6" width="4" height="0.7" fill="#6e6e6e"/>
<rect x="434" y="553.5" width="21" height="16.5" fill="#d0d0d0"/>
<rect x="435" y="555.5" width="8" height="0.8" fill="#555"/><rect x="435" y="558" width="19" height="1.5" fill="#f8f8f8"/><rect x="435" y="561" width="19" height="1.5" fill="#f8f8f8"/><rect x="437" y="564.5" width="9" height="2.5" fill="#f4f4f4" stroke="#999" stroke-width="0.3"/>
<rect x="386.9" y="539.3" width="60.9" height="14.0" fill="#ffffff" opacity="0.45"/>
<text transform="translate(389.15999999999997,551.12) scale(1.098,1)" font-size="10.54" font-weight="bold" fill="#a8b4d8">楽器の試聴</text>
<text transform="translate(388.26,550.22) scale(1.098,1)" font-size="10.54" font-weight="bold" fill="#6e3200" stroke="#6e3200" stroke-width="0.1">楽器の試聴</text>
<rect x="492.8" y="529.5" width="30.2" height="65.4" fill="#74ad74" stroke="#5a7e5a" stroke-width="1"/>
<rect x="493.3" y="530" width="29.2" height="2.8" fill="url(#tbar)"/>
<rect x="493.8" y="532.8" width="28.2" height="61.10000000000001" fill="#fff"/>
<circle cx="495.1" cy="531.40" r="0.9" fill="#4a6ae0"/>
<rect x="496.8" y="530.90" width="7.8" height="1" fill="#5a6a5a" opacity="0.55"/>
<rect x="516.2" y="530.1" width="5.5" height="2.4" fill="#d0604a" rx="0.6"/>
<rect x="493.8" y="532" width="28.2" height="62" fill="#f2f2f2"/>
<rect x="494.2" y="534" width="5" height="0.7" fill="#777"/><rect x="509" y="534" width="3" height="0.6" fill="#aaa"/>
<rect x="513.6" y="535.7" width="1.8" height="0.6" fill="#999"/><rect x="516.4" y="535.7" width="1.8" height="0.6" fill="#999"/><rect x="519.2" y="535.7" width="1.8" height="0.6" fill="#999"/>
<rect x="513.6" y="538" width="1.8" height="0.6" fill="#999"/><rect x="516.4" y="538" width="1.8" height="0.6" fill="#999"/><rect x="519.2" y="538" width="1.8" height="0.6" fill="#999"/>
<rect x="513.6" y="551" width="1.8" height="0.6" fill="#999"/><rect x="516.4" y="551" width="1.8" height="0.6" fill="#999"/><rect x="519.2" y="551" width="1.8" height="0.6" fill="#999"/>
<rect x="513.6" y="553.3" width="1.8" height="0.6" fill="#999"/><rect x="516.4" y="553.3" width="1.8" height="0.6" fill="#999"/><rect x="519.2" y="553.3" width="1.8" height="0.6" fill="#999"/>
<rect x="513.6" y="556.9" width="1.8" height="0.6" fill="#999"/><rect x="516.4" y="556.9" width="1.8" height="0.6" fill="#999"/><rect x="519.2" y="556.9" width="1.8" height="0.6" fill="#999"/>
<rect x="513.6" y="559.2" width="1.8" height="0.6" fill="#999"/><rect x="516.4" y="559.2" width="1.8" height="0.6" fill="#999"/><rect x="519.2" y="559.2" width="1.8" height="0.6" fill="#999"/>
<rect x="513.6" y="561.6" width="1.8" height="0.6" fill="#999"/><rect x="516.4" y="561.6" width="1.8" height="0.6" fill="#999"/><rect x="519.2" y="561.6" width="1.8" height="0.6" fill="#999"/>
<rect x="513.6" y="563.3" width="1.8" height="0.6" fill="#999"/><rect x="516.4" y="563.3" width="1.8" height="0.6" fill="#999"/><rect x="519.2" y="563.3" width="1.8" height="0.6" fill="#999"/>
<rect x="513.6" y="565" width="1.8" height="0.6" fill="#999"/><rect x="516.4" y="565" width="1.8" height="0.6" fill="#999"/><rect x="519.2" y="565" width="1.8" height="0.6" fill="#999"/>
<rect x="513.6" y="566.8" width="1.8" height="0.6" fill="#999"/><rect x="516.4" y="566.8" width="1.8" height="0.6" fill="#999"/><rect x="519.2" y="566.8" width="1.8" height="0.6" fill="#999"/>
<rect x="513.6" y="571" width="1.8" height="0.6" fill="#999"/><rect x="516.4" y="571" width="1.8" height="0.6" fill="#999"/><rect x="519.2" y="571" width="1.8" height="0.6" fill="#999"/>
<rect x="513.6" y="573.3" width="1.8" height="0.6" fill="#999"/><rect x="516.4" y="573.3" width="1.8" height="0.6" fill="#999"/><rect x="519.2" y="573.3" width="1.8" height="0.6" fill="#999"/>
<rect x="513.6" y="575" width="1.8" height="0.6" fill="#999"/><rect x="516.4" y="575" width="1.8" height="0.6" fill="#999"/><rect x="519.2" y="575" width="1.8" height="0.6" fill="#999"/>
<path d="M495.4,556.5 L499,556.5 L500.5,554.2 L502.3,558.5 L504,554.2 L505.8,558.5 L507.5,554.2 L509.3,558.5 L511.8,558.5" fill="none" stroke="#555" stroke-width="0.5"/>
<rect x="494.5" y="563.8" width="4.5" height="0.7" fill="#777"/><rect x="510" y="563.8" width="3" height="0.6" fill="#aaa"/>
<path d="M495.4,571.5 L506.5,571.5 L507,569.2 L508.2,574.5 L511.8,574.5" fill="none" stroke="#555" stroke-width="0.5"/>
<rect x="496" y="578.6" width="3" height="0.7" fill="#666"/><rect x="500.7" y="578.6" width="1.7" height="0.6" fill="#999"/><rect x="504.8" y="578.7" width="16.4" height="0.4" fill="#bbb"/><rect x="510" y="577.8000000000001" width="0.9" height="1.8" fill="#888"/>
<rect x="496" y="581.9" width="3" height="0.7" fill="#666"/><rect x="500.7" y="581.9" width="1.7" height="0.6" fill="#999"/><rect x="504.8" y="582.0" width="16.4" height="0.4" fill="#bbb"/><rect x="505.5" y="581.1" width="0.9" height="1.8" fill="#888"/>
<rect x="496" y="585" width="3" height="0.7" fill="#666"/><rect x="500.7" y="585" width="1.7" height="0.6" fill="#999"/><rect x="504.8" y="585.1" width="16.4" height="0.4" fill="#bbb"/><rect x="505.5" y="584.2" width="0.9" height="1.8" fill="#888"/>
<rect x="496" y="588.3" width="3" height="0.7" fill="#666"/><rect x="500.7" y="588.3" width="1.7" height="0.6" fill="#999"/><rect x="504.8" y="588.4" width="16.4" height="0.4" fill="#bbb"/><rect x="519" y="587.5" width="0.9" height="1.8" fill="#888"/>
<rect x="494.5" y="591.8" width="4" height="0.7" fill="#777"/><rect x="500" y="590.8" width="9.5" height="2.2" fill="none" stroke="#bbb" stroke-width="0.3"/><rect x="513" y="590.6" width="8.8" height="2.6" fill="#f8f8f8" stroke="#888" stroke-width="0.35"/>
<rect x="491.5" y="537.0" width="49.2" height="14.1" fill="#ffffff" opacity="0.45"/>
<text transform="translate(493.9,548.73) scale(1.099,1)" font-size="10.6" font-weight="bold" fill="#a8b4d8">波形加工</text>
<text transform="translate(493.0,547.83) scale(1.099,1)" font-size="10.6" font-weight="bold" fill="#6e3200" stroke="#6e3200" stroke-width="0.1">波形加工</text>
</svg>
</body></html>
